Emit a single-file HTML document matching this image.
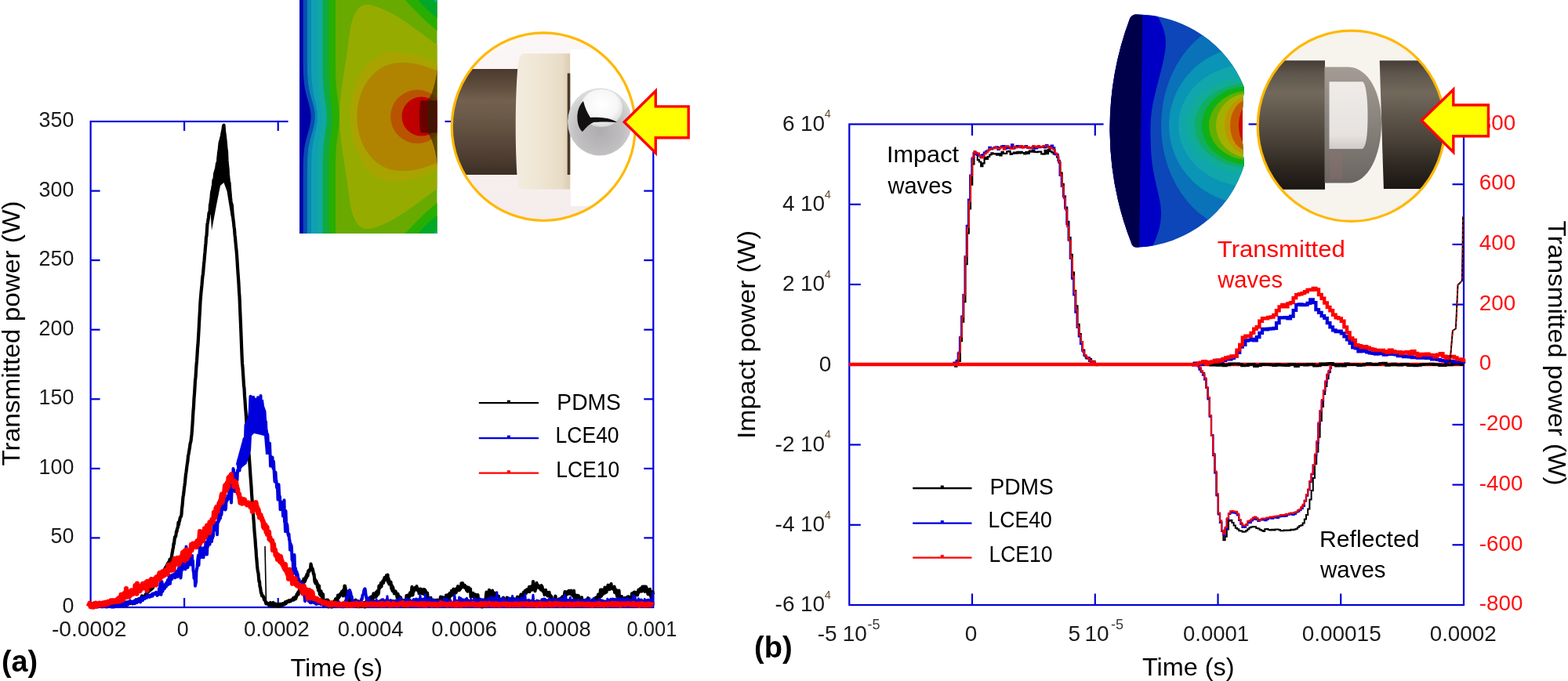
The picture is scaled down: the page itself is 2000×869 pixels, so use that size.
<!DOCTYPE html>
<html><head><meta charset="utf-8"><title>Figure</title>
<style>html,body{margin:0;padding:0;background:#fff;}body{width:2000px;height:869px;overflow:hidden;}svg{display:block;}</style>
</head><body>
<svg width="2000" height="869" viewBox="0 0 2000 869" font-family="'Liberation Sans', Arial, sans-serif">

<rect x="115.6" y="155.0" width="717.6999999999999" height="620.0" fill="none" stroke="#0000d8" stroke-width="2.2"/>
<line x1="115.6" y1="686.4" x2="127.6" y2="686.4" stroke="#0000d8" stroke-width="2.2"/>
<line x1="821.3" y1="686.4" x2="833.3" y2="686.4" stroke="#0000d8" stroke-width="2.2"/>
<line x1="115.6" y1="597.9" x2="127.6" y2="597.9" stroke="#0000d8" stroke-width="2.2"/>
<line x1="821.3" y1="597.9" x2="833.3" y2="597.9" stroke="#0000d8" stroke-width="2.2"/>
<line x1="115.6" y1="509.3" x2="127.6" y2="509.3" stroke="#0000d8" stroke-width="2.2"/>
<line x1="821.3" y1="509.3" x2="833.3" y2="509.3" stroke="#0000d8" stroke-width="2.2"/>
<line x1="115.6" y1="420.7" x2="127.6" y2="420.7" stroke="#0000d8" stroke-width="2.2"/>
<line x1="821.3" y1="420.7" x2="833.3" y2="420.7" stroke="#0000d8" stroke-width="2.2"/>
<line x1="115.6" y1="332.1" x2="127.6" y2="332.1" stroke="#0000d8" stroke-width="2.2"/>
<line x1="821.3" y1="332.1" x2="833.3" y2="332.1" stroke="#0000d8" stroke-width="2.2"/>
<line x1="115.6" y1="243.6" x2="127.6" y2="243.6" stroke="#0000d8" stroke-width="2.2"/>
<line x1="821.3" y1="243.6" x2="833.3" y2="243.6" stroke="#0000d8" stroke-width="2.2"/>
<line x1="235.1" y1="775.0" x2="235.1" y2="763.0" stroke="#0000d8" stroke-width="2.2"/>
<line x1="235.1" y1="155.0" x2="235.1" y2="167.0" stroke="#0000d8" stroke-width="2.2"/>
<line x1="354.7" y1="775.0" x2="354.7" y2="763.0" stroke="#0000d8" stroke-width="2.2"/>
<line x1="354.7" y1="155.0" x2="354.7" y2="167.0" stroke="#0000d8" stroke-width="2.2"/>
<line x1="474.4" y1="775.0" x2="474.4" y2="763.0" stroke="#0000d8" stroke-width="2.2"/>
<line x1="474.4" y1="155.0" x2="474.4" y2="167.0" stroke="#0000d8" stroke-width="2.2"/>
<line x1="594.0" y1="775.0" x2="594.0" y2="763.0" stroke="#0000d8" stroke-width="2.2"/>
<line x1="594.0" y1="155.0" x2="594.0" y2="167.0" stroke="#0000d8" stroke-width="2.2"/>
<line x1="713.6" y1="775.0" x2="713.6" y2="763.0" stroke="#0000d8" stroke-width="2.2"/>
<line x1="713.6" y1="155.0" x2="713.6" y2="167.0" stroke="#0000d8" stroke-width="2.2"/>
<rect x="1083.3" y="158.5" width="783.7" height="613.5" fill="none" stroke="#0000d8" stroke-width="2.2"/>
<line x1="1083.3" y1="669.8" x2="1097.8" y2="669.8" stroke="#0000d8" stroke-width="2.2"/>
<line x1="1083.3" y1="567.5" x2="1097.8" y2="567.5" stroke="#0000d8" stroke-width="2.2"/>
<line x1="1083.3" y1="363.0" x2="1097.8" y2="363.0" stroke="#0000d8" stroke-width="2.2"/>
<line x1="1083.3" y1="260.8" x2="1097.8" y2="260.8" stroke="#0000d8" stroke-width="2.2"/>
<line x1="1852.5" y1="695.3" x2="1867.0" y2="695.3" stroke="#0000d8" stroke-width="2.2"/>
<line x1="1852.5" y1="618.6" x2="1867.0" y2="618.6" stroke="#0000d8" stroke-width="2.2"/>
<line x1="1852.5" y1="541.9" x2="1867.0" y2="541.9" stroke="#0000d8" stroke-width="2.2"/>
<line x1="1852.5" y1="388.6" x2="1867.0" y2="388.6" stroke="#0000d8" stroke-width="2.2"/>
<line x1="1852.5" y1="311.9" x2="1867.0" y2="311.9" stroke="#0000d8" stroke-width="2.2"/>
<line x1="1852.5" y1="235.2" x2="1867.0" y2="235.2" stroke="#0000d8" stroke-width="2.2"/>
<line x1="1240.0" y1="772.0" x2="1240.0" y2="757.5" stroke="#0000d8" stroke-width="2.2"/>
<line x1="1240.0" y1="158.5" x2="1240.0" y2="173.0" stroke="#0000d8" stroke-width="2.2"/>
<line x1="1396.8" y1="772.0" x2="1396.8" y2="757.5" stroke="#0000d8" stroke-width="2.2"/>
<line x1="1396.8" y1="158.5" x2="1396.8" y2="173.0" stroke="#0000d8" stroke-width="2.2"/>
<line x1="1553.5" y1="772.0" x2="1553.5" y2="757.5" stroke="#0000d8" stroke-width="2.2"/>
<line x1="1553.5" y1="158.5" x2="1553.5" y2="173.0" stroke="#0000d8" stroke-width="2.2"/>
<line x1="1710.2" y1="772.0" x2="1710.2" y2="757.5" stroke="#0000d8" stroke-width="2.2"/>
<line x1="1710.2" y1="158.5" x2="1710.2" y2="173.0" stroke="#0000d8" stroke-width="2.2"/>
<path d="M116.0,771.0 116.5,772.4 117.0,772.2 117.5,770.5 118.0,770.7 118.5,770.5 119.0,771.6 119.5,771.0 120.0,771.8 120.5,769.2 121.0,772.6 121.5,771.0 122.0,771.8 122.5,771.0 123.0,770.7 123.5,771.6 124.0,771.9 124.5,770.9 125.0,771.0 125.5,771.8 126.0,770.3 126.5,769.6 127.0,771.6 127.5,770.5 128.0,769.3 128.5,770.4 129.0,770.7 129.5,770.0 130.0,769.7 130.5,771.2 131.0,772.1 131.5,771.0 132.0,770.5 132.5,771.6 133.0,772.0 133.5,771.0 134.0,771.8 134.5,772.3 135.0,771.1 135.5,770.5 136.0,771.6 136.5,771.5 137.0,772.4 137.5,770.0 138.0,770.7 138.5,770.5 139.0,769.6 139.5,771.5 140.0,771.9 140.5,770.6 141.0,772.8 141.5,772.2 142.0,772.0 142.5,771.8 143.0,772.4 143.5,770.1 144.0,772.0 144.5,772.0 145.0,769.7 145.5,771.8 146.0,771.2 146.5,772.2 147.0,771.0 147.5,771.4 148.0,771.8 148.5,770.6 149.0,772.1 149.5,771.4 150.0,772.0 150.5,770.9 151.0,772.5 151.5,771.9 152.0,771.1 152.5,771.8 153.0,772.4 153.5,772.9 154.0,769.4 154.5,771.8 155.0,771.3 155.5,770.7 156.0,769.7 156.5,771.9 157.0,769.4 157.5,771.1 158.0,771.8 158.5,768.8 159.0,770.1 159.5,769.0 160.0,770.5 160.5,771.7 161.0,772.1 161.5,768.3 162.0,769.4 162.5,770.6 163.0,771.5 163.5,770.2 164.0,769.0 164.5,770.0 165.0,769.6 165.5,769.4 166.0,768.8 166.5,769.8 167.0,769.7 167.5,769.2 168.0,769.0 168.5,767.9 169.0,768.6 169.5,770.3 170.0,768.8 170.5,767.3 171.0,769.7 171.5,768.6 172.0,769.9 172.5,767.6 173.0,766.7 173.5,765.5 174.0,767.9 174.5,768.9 175.0,765.2 175.5,765.1 176.0,766.0 176.5,764.3 177.0,764.5 177.5,764.2 178.0,764.4 178.5,765.0 179.0,763.6 179.5,764.2 180.0,762.6 180.5,763.0 181.0,760.3 181.5,760.7 182.0,762.6 182.5,760.9 183.0,761.8 183.5,761.4 184.0,761.9 184.5,761.1 185.0,761.0 185.5,759.3 186.0,758.1 186.5,757.5 187.0,757.1 187.5,755.9 188.0,755.9 188.5,755.7 189.0,755.5 189.5,754.3 190.0,752.1 190.5,753.3 191.0,753.0 191.5,753.3 192.0,752.2 192.5,750.4 193.0,749.7 193.5,751.8 194.0,750.0 194.5,750.4 195.0,750.1 195.5,746.5 196.0,747.0 196.5,746.4 197.0,745.8 197.5,745.0 198.0,744.0 198.5,743.3 199.0,740.9 199.5,741.5 200.0,740.3 200.5,740.4 201.0,739.1 201.5,739.5 202.0,739.0 202.5,737.8 203.0,737.1 203.5,736.2 204.0,735.0 204.5,734.5 205.0,733.5 205.5,733.7 206.0,732.6 206.5,732.5 207.0,729.9 207.5,731.4 208.0,729.0 208.5,728.4 209.0,728.2 209.5,727.1 210.0,727.3 210.5,725.6 211.0,724.3 211.5,723.7 212.0,725.1 212.5,723.0 213.0,721.0 213.5,721.3 214.0,718.9 214.5,721.5 215.0,717.4 215.5,718.9 216.0,718.2 216.5,713.8 217.0,716.2 217.5,716.6 218.0,714.8 218.5,711.8 219.0,710.4 219.5,706.3 220.0,703.9 220.5,700.4 221.0,699.1 221.5,693.6 222.0,694.1 222.5,689.1 223.0,685.4 223.5,685.3 224.0,685.0 224.5,682.1 225.0,677.9 225.5,678.5 226.0,674.8 226.5,673.8 227.0,672.6 227.5,666.7 228.0,669.6 228.5,665.8 229.0,664.8 229.5,661.8 230.0,660.2 230.5,659.6 231.0,659.0 231.5,656.2 232.0,648.8 232.5,645.6 233.0,639.9 233.5,633.9 234.0,631.6 234.5,627.6 235.0,622.6 235.5,619.3 236.0,615.4 236.5,609.9 237.0,605.2 237.5,602.3 238.0,598.2 238.5,594.0 239.0,591.2 239.5,587.8 240.0,581.6 240.5,579.7 241.0,576.9 241.5,573.7 242.0,571.0 242.5,566.6 243.0,564.7 243.5,563.0 244.0,558.8 244.5,554.4 245.0,548.1 245.5,541.2 246.0,532.7 246.5,524.2 247.0,518.8 247.5,508.4 248.0,502.6 248.5,494.5 249.0,485.8 249.5,481.5 250.0,473.9 250.5,465.7 251.0,460.7 251.5,453.0 252.0,444.8 252.5,439.3 253.0,431.2 253.5,422.5 254.0,412.9 254.5,403.7 255.0,395.0 255.5,385.2 256.0,379.2 256.5,373.1 257.0,368.3 257.5,363.5 258.0,356.9 258.5,352.3 259.0,349.5 259.5,343.3 260.0,337.7 260.5,332.9 261.0,326.5 261.5,321.7 262.0,315.2 262.5,310.7 263.0,302.3 263.5,301.1 264.0,292.8 264.5,285.6 265.0,284.1 265.5,280.3 266.0,277.5 266.5,272.0 267.0,270.8 267.5,272.1 268.0,261.1 268.5,260.0 269.0,255.5 269.5,252.7 270.0,246.1 270.5,243.5 271.0,242.4 271.5,238.1 272.0,237.0 272.5,229.9 273.0,228.9 273.5,230.6 274.0,222.8 274.5,220.2 275.0,219.1 275.5,216.8 276.0,215.7 276.5,212.3 277.0,208.6 277.5,207.7 278.0,209.0 278.5,203.8 279.0,194.6 279.5,195.4 280.0,191.2 280.5,190.3 281.0,186.0 281.5,186.0 282.0,181.4 282.5,178.0 283.0,173.7 283.5,170.1 284.0,167.4 284.5,165.5 285.0,161.1 285.5,159.8 286.0,167.1 286.5,170.5 287.0,175.0 287.5,178.9 288.0,184.2 288.5,190.1 289.0,192.9 289.5,204.7 290.0,210.1 290.5,214.9 291.0,222.9 291.5,228.0 292.0,233.2 292.5,233.2 293.0,240.8 293.5,246.2 294.0,252.0 294.5,256.6 295.0,260.2 295.5,260.5 296.0,263.2 296.5,271.6 297.0,275.0 297.5,280.6 298.0,283.9 298.5,289.2 299.0,292.5 299.5,299.4 300.0,303.6 300.5,309.3 301.0,314.5 301.5,318.9 302.0,324.9 302.5,332.2 303.0,340.7 303.5,348.2 304.0,354.8 304.5,362.5 305.0,372.5 305.5,378.4 306.0,391.0 306.5,402.9 307.0,414.4 307.5,426.8 308.0,440.1 308.5,452.8 309.0,463.4 309.5,468.5 310.0,476.2 310.5,483.7 311.0,492.4 311.5,495.4 312.0,505.2 312.5,511.3 313.0,519.2 313.5,525.2 314.0,532.7 314.5,540.6 315.0,546.1 315.5,552.9 316.0,559.6 316.5,565.1 317.0,573.1 317.5,579.1 318.0,585.2 318.5,592.8 319.0,599.8 319.5,607.9 320.0,614.2 320.5,620.8 321.0,629.9 321.5,636.6 322.0,644.0 322.5,650.5 323.0,656.9 323.5,663.2 324.0,669.9 324.5,677.7 325.0,683.5 325.5,688.5 326.0,696.6 326.5,701.8 327.0,710.0 327.5,715.2 328.0,721.7 328.5,726.5 329.0,729.7 329.5,731.5 330.0,737.3 330.5,742.2 331.0,741.9 331.5,748.6 332.0,749.5 332.5,753.1 333.0,756.8 333.5,756.5 334.0,760.2 334.5,760.3 335.0,760.0 335.5,761.4 336.0,761.1 336.5,763.2 337.0,765.4 337.5,763.6 338.0,765.8 338.5,767.4 339.0,769.2 339.5,770.4 340.0,769.5 340.5,769.3 341.0,770.6 341.5,769.9 342.0,770.0 342.5,771.5 343.0,772.2 343.5,770.9 344.0,770.5 344.5,771.4 345.0,769.0 345.5,771.0 346.0,770.0 346.5,773.5 347.0,772.0 347.5,771.5 348.0,771.2 348.5,769.0 349.0,772.3 349.5,773.3 350.0,771.0 350.5,772.5 351.0,772.7 351.5,770.5 352.0,773.1 352.5,773.6 353.0,772.5 353.5,772.3 354.0,773.3 354.5,771.0 355.0,772.7 355.5,773.8 356.0,771.6 356.5,773.9 357.0,772.6 357.5,770.7 358.0,772.4 358.5,771.3 359.0,772.3 359.5,770.6 360.0,772.6 360.5,770.5 361.0,771.4 361.5,770.2 362.0,770.2 362.5,771.4 363.0,770.2 363.5,769.4 364.0,768.2 364.5,770.4 365.0,769.7 365.5,768.4 366.0,768.7 366.5,767.2 367.0,767.0 367.5,766.9 368.0,767.9 368.5,767.5 369.0,766.3 369.5,767.5 370.0,767.3 370.5,766.4 371.0,767.0 371.5,765.5 372.0,765.4 372.5,765.7 373.0,765.0 373.5,765.5 374.0,763.2 374.5,765.7 375.0,763.2 375.5,763.6 376.0,762.1 376.5,763.9 377.0,764.3 377.5,763.1 378.0,761.8 378.5,758.4 379.0,758.2 379.5,757.5 380.0,756.1 380.5,758.7 381.0,755.4 381.5,753.9 382.0,754.2 382.5,749.7 383.0,748.8 383.5,747.9 384.0,750.2 384.5,748.8 385.0,748.4 385.5,748.6 386.0,741.7 386.5,742.7 387.0,743.4 387.5,738.7 388.0,739.7 388.5,742.3 389.0,741.5 389.5,740.4 390.0,736.9 390.5,735.3 391.0,737.3 391.5,732.8 392.0,733.5 392.5,734.8 393.0,729.7 393.5,728.1 394.0,728.5 394.5,729.0 395.0,727.7 395.5,725.8 396.0,725.8 396.5,719.6 397.0,721.9 397.5,725.9 398.0,724.9 398.5,725.5 399.0,727.4 399.5,729.7 400.0,733.0 400.5,732.6 401.0,737.2 401.5,742.3 402.0,739.5 402.5,744.5 403.0,743.7 403.5,741.5 404.0,744.8 404.5,744.2 405.0,749.6 405.5,746.2 406.0,753.4 406.5,752.8 407.0,747.7 407.5,755.7 408.0,758.7 408.5,754.3 409.0,759.8 409.5,754.3 410.0,760.4 410.5,757.0 411.0,763.4 411.5,759.1 412.0,758.3 412.5,766.8 413.0,772.5 413.5,765.8 414.0,769.4 414.5,767.9 415.0,767.1 415.5,769.5 416.0,772.2 416.5,765.5 417.0,770.0 417.5,769.7 418.0,765.7 418.5,773.2 419.0,774.2 419.5,767.4 420.0,774.1 420.5,770.3 421.0,769.9 421.5,774.1 422.0,771.3 422.5,771.7 423.0,774.5 423.5,774.5 424.0,773.7 424.5,768.4 425.0,768.2 425.5,774.0 426.0,768.3 426.5,770.1 427.0,766.4 427.5,767.8 428.0,764.4 428.5,770.7 429.0,763.6 429.5,765.0 430.0,764.0 430.5,766.6 431.0,759.6 431.5,762.2 432.0,761.0 432.5,762.0 433.0,761.1 433.5,758.3 434.0,759.4 434.5,757.4 435.0,758.8 435.5,756.9 436.0,755.0 436.5,755.9 437.0,756.3 437.5,760.3 438.0,753.1 438.5,754.5 439.0,756.7 439.5,747.6 440.0,747.8 440.5,750.4 441.0,754.3 441.5,761.7 442.0,758.1 442.5,761.3 443.0,759.2 443.5,755.1 444.0,756.7 444.5,766.0 445.0,765.3 445.5,763.0 446.0,770.1 446.5,765.0 447.0,772.7 447.5,773.5 448.0,768.2 448.5,767.3 449.0,772.0 449.5,767.4 450.0,772.1 450.5,767.1 451.0,771.9 451.5,770.2 452.0,769.0 452.5,767.9 453.0,770.6 453.5,765.5 454.0,769.3 454.5,769.0 455.0,771.6 455.5,767.0 456.0,774.1 456.5,769.3 457.0,767.3 457.5,773.3 458.0,774.0 458.5,769.5 459.0,767.9 459.5,770.0 460.0,768.3 460.5,769.3 461.0,773.7 461.5,770.9 462.0,770.3 462.5,770.8 463.0,769.9 463.5,772.0 464.0,772.1 464.5,769.1 465.0,770.3 465.5,774.5 466.0,770.2 466.5,768.4 467.0,773.3 467.5,768.0 468.0,765.0 468.5,768.8 469.0,764.6 469.5,765.2 470.0,766.8 470.5,765.3 471.0,763.4 471.5,763.5 472.0,763.0 472.5,766.8 473.0,761.9 473.5,761.8 474.0,767.7 474.5,761.1 475.0,765.6 475.5,764.8 476.0,760.8 476.5,757.4 477.0,761.5 477.5,761.6 478.0,761.9 478.5,759.4 479.0,761.7 479.5,761.7 480.0,755.5 480.5,760.5 481.0,756.6 481.5,754.0 482.0,753.7 482.5,758.1 483.0,755.1 483.5,747.5 484.0,751.1 484.5,749.7 485.0,748.7 485.5,747.0 486.0,743.9 486.5,748.6 487.0,743.4 487.5,743.8 488.0,742.4 488.5,741.2 489.0,743.9 489.5,742.1 490.0,738.7 490.5,737.2 491.0,737.4 491.5,740.0 492.0,737.1 492.5,736.4 493.0,734.2 493.5,735.4 494.0,737.6 494.5,733.7 495.0,743.0 495.5,738.3 496.0,739.9 496.5,745.5 497.0,743.9 497.5,744.5 498.0,744.0 498.5,742.7 499.0,747.9 499.5,751.4 500.0,747.4 500.5,753.9 501.0,749.0 501.5,750.9 502.0,755.0 502.5,754.8 503.0,757.5 503.5,755.1 504.0,755.4 504.5,754.5 505.0,757.1 505.5,757.9 506.0,757.6 506.5,762.2 507.0,760.4 507.5,757.7 508.0,769.0 508.5,761.5 509.0,761.0 509.5,767.5 510.0,767.8 510.5,762.7 511.0,762.5 511.5,764.1 512.0,769.7 512.5,766.8 513.0,766.1 513.5,768.4 514.0,771.9 514.5,766.2 515.0,769.1 515.5,766.0 516.0,773.8 516.5,772.2 517.0,769.4 517.5,766.1 518.0,767.3 518.5,760.0 519.0,764.9 519.5,760.4 520.0,759.7 520.5,760.5 521.0,760.6 521.5,762.1 522.0,761.7 522.5,760.0 523.0,756.4 523.5,759.7 524.0,757.1 524.5,759.6 525.0,753.9 525.5,748.9 526.0,753.7 526.5,759.4 527.0,754.7 527.5,752.5 528.0,754.4 528.5,752.9 529.0,752.1 529.5,749.8 530.0,751.2 530.5,751.5 531.0,749.5 531.5,748.3 532.0,751.3 532.5,753.3 533.0,752.6 533.5,752.2 534.0,752.2 534.5,757.2 535.0,751.6 535.5,753.5 536.0,755.7 536.5,751.6 537.0,752.6 537.5,755.0 538.0,757.1 538.5,754.3 539.0,754.9 539.5,754.7 540.0,752.1 540.5,758.2 541.0,755.4 541.5,752.4 542.0,756.7 542.5,753.4 543.0,755.6 543.5,758.6 544.0,756.8 544.5,762.1 545.0,756.5 545.5,761.1 546.0,762.4 546.5,765.0 547.0,764.2 547.5,763.1 548.0,763.2 548.5,763.4 549.0,766.8 549.5,762.9 550.0,766.3 550.5,765.3 551.0,766.6 551.5,765.9 552.0,772.1 552.5,765.9 553.0,768.6 553.5,769.2 554.0,770.5 554.5,770.6 555.0,771.0 555.5,772.1 556.0,765.9 556.5,769.3 557.0,766.1 557.5,769.3 558.0,765.7 558.5,766.0 559.0,767.9 559.5,771.1 560.0,768.9 560.5,768.0 561.0,770.4 561.5,764.5 562.0,761.5 562.5,765.3 563.0,765.4 563.5,768.7 564.0,770.7 564.5,762.1 565.0,771.0 565.5,768.5 566.0,766.5 566.5,765.2 567.0,769.9 567.5,764.0 568.0,762.4 568.5,763.6 569.0,759.7 569.5,763.9 570.0,762.3 570.5,763.1 571.0,762.9 571.5,759.2 572.0,764.7 572.5,758.8 573.0,763.2 573.5,757.0 574.0,761.4 574.5,758.3 575.0,760.1 575.5,758.0 576.0,753.9 576.5,756.0 577.0,758.3 577.5,759.2 578.0,753.7 578.5,751.7 579.0,754.2 579.5,755.3 580.0,753.8 580.5,752.9 581.0,756.5 581.5,756.3 582.0,755.3 582.5,750.8 583.0,752.7 583.5,751.6 584.0,748.2 584.5,753.2 585.0,750.9 585.5,749.0 586.0,753.1 586.5,751.1 587.0,750.8 587.5,751.2 588.0,749.6 588.5,744.3 589.0,746.0 589.5,748.9 590.0,744.1 590.5,745.6 591.0,746.0 591.5,749.1 592.0,749.4 592.5,749.0 593.0,747.0 593.5,750.3 594.0,749.9 594.5,748.9 595.0,753.1 595.5,751.7 596.0,749.3 596.5,754.7 597.0,751.7 597.5,754.3 598.0,749.9 598.5,754.1 599.0,752.5 599.5,753.0 600.0,751.4 600.5,761.7 601.0,756.8 601.5,758.3 602.0,761.0 602.5,758.7 603.0,760.8 603.5,756.9 604.0,761.3 604.5,760.4 605.0,763.2 605.5,762.9 606.0,759.5 606.5,758.8 607.0,761.2 607.5,765.8 608.0,765.4 608.5,765.8 609.0,760.4 609.5,759.2 610.0,764.5 610.5,765.6 611.0,765.4 611.5,768.1 612.0,767.2 612.5,765.2 613.0,766.3 613.5,769.2 614.0,769.4 614.5,769.4 615.0,774.5 615.5,768.8 616.0,769.1 616.5,765.9 617.0,766.8 617.5,768.3 618.0,767.9 618.5,765.5 619.0,766.3 619.5,764.9 620.0,759.7 620.5,755.7 621.0,768.5 621.5,764.4 622.0,761.7 622.5,757.1 623.0,757.6 623.5,763.3 624.0,752.8 624.5,758.1 625.0,760.4 625.5,758.1 626.0,759.0 626.5,756.3 627.0,761.7 627.5,754.0 628.0,753.7 628.5,758.0 629.0,761.3 629.5,758.2 630.0,761.3 630.5,758.0 631.0,756.8 631.5,763.5 632.0,764.4 632.5,764.8 633.0,760.5 633.5,759.2 634.0,759.7 634.5,762.4 635.0,764.8 635.5,765.1 636.0,760.9 636.5,765.2 637.0,765.3 637.5,765.9 638.0,766.1 638.5,766.1 639.0,768.5 639.5,767.8 640.0,768.5 640.5,766.3 641.0,768.8 641.5,767.5 642.0,762.6 642.5,768.8 643.0,766.9 643.5,769.7 644.0,767.0 644.5,767.1 645.0,767.8 645.5,767.1 646.0,766.0 646.5,762.7 647.0,771.4 647.5,763.1 648.0,766.0 648.5,768.3 649.0,767.6 649.5,767.9 650.0,768.3 650.5,769.5 651.0,767.1 651.5,773.3 652.0,763.8 652.5,766.7 653.0,765.2 653.5,764.7 654.0,766.6 654.5,769.3 655.0,764.0 655.5,764.0 656.0,767.3 656.5,766.8 657.0,770.1 657.5,767.8 658.0,765.9 658.5,764.4 659.0,765.7 659.5,764.7 660.0,761.7 660.5,764.6 661.0,763.7 661.5,763.1 662.0,762.2 662.5,766.9 663.0,764.1 663.5,764.2 664.0,760.1 664.5,758.6 665.0,760.0 665.5,760.8 666.0,759.0 666.5,758.9 667.0,761.2 667.5,759.2 668.0,755.7 668.5,756.6 669.0,755.6 669.5,757.2 670.0,753.5 670.5,755.5 671.0,757.1 671.5,755.1 672.0,752.4 672.5,752.7 673.0,754.0 673.5,754.5 674.0,754.9 674.5,752.1 675.0,748.8 675.5,755.2 676.0,752.2 676.5,752.2 677.0,751.7 677.5,748.3 678.0,749.7 678.5,750.9 679.0,752.5 679.5,749.9 680.0,742.0 680.5,748.7 681.0,749.8 681.5,751.9 682.0,750.2 682.5,754.2 683.0,751.4 683.5,751.0 684.0,749.8 684.5,743.9 685.0,749.0 685.5,748.9 686.0,746.6 686.5,749.7 687.0,749.7 687.5,748.1 688.0,749.3 688.5,749.4 689.0,751.0 689.5,749.9 690.0,752.6 690.5,747.2 691.0,751.5 691.5,748.6 692.0,751.9 692.5,754.7 693.0,754.0 693.5,754.1 694.0,755.0 694.5,759.0 695.0,753.0 695.5,758.2 696.0,752.9 696.5,755.8 697.0,757.8 697.5,755.8 698.0,758.8 698.5,760.4 699.0,756.3 699.5,759.4 700.0,759.1 700.5,755.8 701.0,760.4 701.5,759.3 702.0,764.9 702.5,760.0 703.0,766.6 703.5,761.6 704.0,768.0 704.5,765.0 705.0,765.3 705.5,766.5 706.0,767.2 706.5,768.8 707.0,770.0 707.5,765.4 708.0,763.7 708.5,760.7 709.0,766.6 709.5,769.7 710.0,769.2 710.5,769.0 711.0,768.3 711.5,768.0 712.0,769.3 712.5,770.4 713.0,764.7 713.5,770.1 714.0,764.4 714.5,766.9 715.0,765.3 715.5,765.4 716.0,763.2 716.5,762.4 717.0,764.1 717.5,761.5 718.0,769.5 718.5,762.0 719.0,760.9 719.5,760.6 720.0,758.8 720.5,755.0 721.0,759.7 721.5,760.6 722.0,755.7 722.5,758.7 723.0,755.3 723.5,757.6 724.0,758.0 724.5,757.8 725.0,757.1 725.5,753.8 726.0,757.1 726.5,754.3 727.0,756.5 727.5,757.7 728.0,755.7 728.5,753.7 729.0,758.6 729.5,754.8 730.0,755.7 730.5,755.5 731.0,760.6 731.5,758.5 732.0,753.9 732.5,761.4 733.0,764.9 733.5,764.7 734.0,759.3 734.5,761.2 735.0,762.6 735.5,763.9 736.0,762.2 736.5,759.8 737.0,764.6 737.5,764.7 738.0,760.4 738.5,763.0 739.0,764.9 739.5,764.6 740.0,766.2 740.5,767.0 741.0,766.6 741.5,765.2 742.0,762.4 742.5,767.3 743.0,769.3 743.5,770.9 744.0,766.2 744.5,766.4 745.0,770.1 745.5,770.3 746.0,767.8 746.5,768.8 747.0,765.5 747.5,768.9 748.0,765.7 748.5,767.5 749.0,767.7 749.5,767.0 750.0,763.2 750.5,766.5 751.0,769.4 751.5,768.7 752.0,768.0 752.5,770.2 753.0,771.0 753.5,771.5 754.0,767.7 754.5,769.8 755.0,769.2 755.5,767.4 756.0,765.4 756.5,768.2 757.0,765.9 757.5,772.6 758.0,766.7 758.5,765.9 759.0,765.0 759.5,770.0 760.0,762.7 760.5,764.1 761.0,762.1 761.5,763.2 762.0,762.9 762.5,765.1 763.0,758.6 763.5,761.4 764.0,764.8 764.5,759.2 765.0,759.5 765.5,757.3 766.0,752.7 766.5,758.2 767.0,760.8 767.5,756.3 768.0,752.5 768.5,757.1 769.0,756.1 769.5,757.9 770.0,757.1 770.5,754.0 771.0,755.3 771.5,749.7 772.0,756.4 772.5,753.9 773.0,755.8 773.5,755.4 774.0,751.9 774.5,751.9 775.0,749.9 775.5,746.7 776.0,751.0 776.5,751.4 777.0,748.2 777.5,752.2 778.0,750.4 778.5,750.9 779.0,747.7 779.5,745.0 780.0,750.8 780.5,751.1 781.0,750.0 781.5,749.8 782.0,750.8 782.5,751.8 783.0,751.5 783.5,748.6 784.0,755.9 784.5,751.1 785.0,754.5 785.5,755.2 786.0,757.2 786.5,753.3 787.0,760.7 787.5,760.0 788.0,760.9 788.5,762.8 789.0,758.5 789.5,753.5 790.0,762.4 790.5,765.4 791.0,765.7 791.5,762.3 792.0,764.0 792.5,765.5 793.0,761.1 793.5,764.5 794.0,765.2 794.5,771.2 795.0,766.4 795.5,771.5 796.0,767.4 796.5,763.0 797.0,772.1 797.5,764.1 798.0,767.6 798.5,769.9 799.0,764.3 799.5,762.3 800.0,767.4 800.5,764.8 801.0,761.4 801.5,761.4 802.0,762.8 802.5,765.7 803.0,762.4 803.5,764.3 804.0,766.4 804.5,765.2 805.0,765.3 805.5,764.5 806.0,757.4 806.5,763.9 807.0,761.4 807.5,760.0 808.0,757.4 808.5,755.8 809.0,756.6 809.5,758.8 810.0,755.7 810.5,756.2 811.0,756.3 811.5,759.0 812.0,756.3 812.5,756.3 813.0,759.4 813.5,755.1 814.0,756.9 814.5,752.6 815.0,755.5 815.5,754.7 816.0,754.4 816.5,752.5 817.0,750.8 817.5,752.2 818.0,751.4 818.5,754.6 819.0,753.9 819.5,748.5 820.0,752.5 820.5,750.1 821.0,752.6 821.5,750.7 822.0,748.5 822.5,754.8 823.0,753.7 823.5,749.9 824.0,748.6 824.5,752.1 825.0,750.9 825.5,753.1 826.0,755.7 826.5,758.0 827.0,753.9 827.5,758.3 828.0,758.1 828.5,754.5 829.0,751.8 829.5,758.2 830.0,757.8 830.5,762.3 831.0,760.4 831.5,759.1 832.0,761.5 832.5,755.2 833.0,758.5" fill="none" stroke="#000" stroke-width="4.2" stroke-linejoin="round"/>
<path d="M 285.5,157 L 287.5,180 L 289.5,212 L 291,229 L 293,240 L 296.5,276 L 295,278 L 289.5,244 L 285.5,233 L 281,237 L 276,262 L 270,294 L 268.5,270 L 270,250 L 272,232 L 275.5,212 L 278.5,182 Z" fill="#000"/>
<path d="M338,697 L339.5,771" stroke="#000" stroke-width="1.6"/>
<path d="M116.0,773.5 116.5,774.5 117.0,774.4 117.5,774.3 118.0,774.5 118.5,772.0 119.0,772.7 119.5,771.9 120.0,773.3 120.5,774.5 121.0,773.4 121.5,774.0 122.0,771.1 122.5,773.6 123.0,772.3 123.5,774.5 124.0,774.4 124.5,774.5 125.0,773.3 125.5,774.1 126.0,774.1 126.5,772.9 127.0,772.7 127.5,773.2 128.0,772.6 128.5,772.6 129.0,773.0 129.5,772.4 130.0,774.2 130.5,771.4 131.0,774.3 131.5,772.5 132.0,772.6 132.5,771.6 133.0,773.1 133.5,772.9 134.0,773.5 134.5,772.6 135.0,773.3 135.5,774.5 136.0,773.7 136.5,772.5 137.0,774.3 137.5,773.0 138.0,773.9 138.5,773.9 139.0,772.7 139.5,770.8 140.0,772.7 140.5,773.8 141.0,772.7 141.5,773.7 142.0,774.3 142.5,772.5 143.0,774.5 143.5,774.5 144.0,774.4 144.5,774.5 145.0,774.4 145.5,774.5 146.0,773.3 146.5,773.1 147.0,773.8 147.5,771.9 148.0,771.2 148.5,772.0 149.0,773.5 149.5,773.6 150.0,771.2 150.5,770.6 151.0,772.4 151.5,772.4 152.0,772.5 152.5,773.2 153.0,773.8 153.5,772.4 154.0,772.8 154.5,770.6 155.0,770.4 155.5,772.0 156.0,772.4 156.5,772.3 157.0,772.0 157.5,772.1 158.0,772.1 158.5,768.9 159.0,770.0 159.5,771.3 160.0,771.3 160.5,768.7 161.0,771.8 161.5,769.7 162.0,769.8 162.5,770.3 163.0,770.8 163.5,768.0 164.0,770.8 164.5,769.6 165.0,768.5 165.5,768.9 166.0,766.5 166.5,768.3 167.0,769.1 167.5,767.9 168.0,768.3 168.5,768.4 169.0,768.5 169.5,769.5 170.0,768.2 170.5,767.8 171.0,768.6 171.5,770.3 172.0,767.3 172.5,768.2 173.0,765.6 173.5,769.0 174.0,768.0 174.5,768.7 175.0,766.9 175.5,765.5 176.0,767.7 176.5,767.3 177.0,765.2 177.5,764.2 178.0,766.3 178.5,765.4 179.0,768.5 179.5,764.5 180.0,764.4 180.5,764.7 181.0,762.6 181.5,763.3 182.0,766.2 182.5,763.8 183.0,763.1 183.5,762.1 184.0,764.1 184.5,764.0 185.0,763.3 185.5,762.3 186.0,763.0 186.5,762.9 187.0,761.4 187.5,762.7 188.0,759.3 188.5,760.1 189.0,761.0 189.5,761.1 190.0,759.6 190.5,761.2 191.0,761.9 191.5,760.9 192.0,760.5 192.5,761.0 193.0,760.3 193.5,758.2 194.0,759.2 194.5,760.7 195.0,757.6 195.5,758.9 196.0,758.1 196.5,757.3 197.0,757.0 197.5,758.1 198.0,758.2 198.5,758.0 199.0,755.7 199.5,756.9 200.0,757.4 200.5,759.9 201.0,758.4 201.5,758.4 202.0,758.9 202.5,757.4 203.0,750.9 203.5,753.6 204.0,750.3 204.5,743.7 205.0,745.7 205.5,758.8 206.0,746.7 206.5,742.2 207.0,747.6 207.5,754.7 208.0,748.5 208.5,749.6 209.0,746.7 209.5,746.8 210.0,751.2 210.5,748.9 211.0,745.2 211.5,748.2 212.0,748.4 212.5,743.2 213.0,744.5 213.5,743.9 214.0,740.0 214.5,746.1 215.0,740.8 215.5,738.6 216.0,734.3 216.5,735.3 217.0,744.8 217.5,734.7 218.0,739.8 218.5,736.4 219.0,739.1 219.5,738.9 220.0,733.4 220.5,734.6 221.0,735.5 221.5,735.1 222.0,734.0 222.5,732.5 223.0,735.3 223.5,737.3 224.0,734.0 224.5,728.9 225.0,732.4 225.5,730.7 226.0,731.7 226.5,736.1 227.0,728.2 227.5,728.5 228.0,724.8 228.5,726.5 229.0,725.0 229.5,732.3 230.0,715.7 230.5,737.6 231.0,731.9 231.5,719.7 232.0,727.1 232.5,727.2 233.0,725.1 233.5,721.6 234.0,715.0 234.5,720.3 235.0,723.8 235.5,712.1 236.0,718.2 236.5,726.5 237.0,716.9 237.5,697.5 238.0,717.1 238.5,714.8 239.0,719.9 239.5,724.2 240.0,716.2 240.5,708.6 241.0,714.5 241.5,711.5 242.0,716.9 242.5,720.4 243.0,714.7 243.5,720.5 244.0,712.6 244.5,714.9 245.0,708.9 245.5,717.9 246.0,715.4 246.5,728.5 247.0,729.4 247.5,738.0 248.0,738.3 248.5,734.4 249.0,747.8 249.5,744.7 250.0,743.3 250.5,729.7 251.0,725.7 251.5,725.1 252.0,717.0 252.5,711.7 253.0,708.6 253.5,721.2 254.0,708.9 254.5,706.9 255.0,694.5 255.5,709.2 256.0,708.4 256.5,711.3 257.0,710.1 257.5,706.7 258.0,706.5 258.5,703.0 259.0,699.2 259.5,711.3 260.0,701.7 260.5,701.9 261.0,700.3 261.5,700.2 262.0,698.2 262.5,691.9 263.0,707.4 263.5,698.1 264.0,707.4 264.5,696.7 265.0,697.6 265.5,677.0 266.0,692.1 266.5,688.2 267.0,688.3 267.5,694.8 268.0,688.7 268.5,690.0 269.0,685.3 269.5,681.6 270.0,691.1 270.5,683.9 271.0,686.8 271.5,682.2 272.0,684.2 272.5,669.9 273.0,677.2 273.5,670.1 274.0,666.6 274.5,675.2 275.0,674.9 275.5,673.4 276.0,670.0 276.5,668.4 277.0,682.3 277.5,666.6 278.0,665.0 278.5,666.2 279.0,653.4 279.5,664.2 280.0,657.5 280.5,661.6 281.0,661.5 281.5,645.6 282.0,657.6 282.5,656.3 283.0,649.6 283.5,649.2 284.0,650.5 284.5,641.1 285.0,646.5 285.5,648.0 286.0,643.8 286.5,637.1 287.0,642.1 287.5,650.6 288.0,648.7 288.5,640.4 289.0,636.0 289.5,639.0 290.0,638.1 290.5,633.1 291.0,633.2 291.5,636.5 292.0,636.5 292.5,610.8 293.0,633.6 293.5,627.8 294.0,631.3 294.5,623.9 295.0,641.4 295.5,629.1 296.0,604.5 296.5,625.8 297.0,617.2 297.5,598.0 298.0,599.8 298.5,613.1 299.0,604.9 299.5,627.1 300.0,608.2 300.5,614.8 301.0,615.2 301.5,603.8 302.0,605.1 302.5,612.6 303.0,600.1 303.5,601.0 304.0,599.5 304.5,587.3 305.0,591.3 305.5,600.5 306.0,587.9 306.5,596.6 307.0,584.1 307.5,587.1 308.0,585.0 308.5,588.6 309.0,575.0 309.5,572.8 310.0,569.1 310.5,567.4 311.0,563.0 311.5,560.2 312.0,561.7 312.5,561.4 313.0,559.6 313.5,542.3 314.0,546.5 314.5,560.6 315.0,542.6 315.5,544.0 316.0,537.8 316.5,544.8 317.0,542.3 317.5,539.4 318.0,534.0 318.5,532.1 319.0,517.3 319.5,505.7 320.0,518.4 320.5,519.9 321.0,510.5 321.5,529.2 322.0,509.6 322.5,519.7 323.0,506.9 323.5,519.3 324.0,529.3 324.5,508.9 325.0,517.9 325.5,514.0 326.0,515.4 326.5,535.0 327.0,509.9 327.5,514.1 328.0,511.3 328.5,509.9 329.0,507.2 329.5,525.2 330.0,512.1 330.5,518.4 331.0,526.1 331.5,515.5 332.0,533.7 332.5,504.9 333.0,534.0 333.5,542.5 334.0,526.9 334.5,527.1 335.0,528.8 335.5,553.4 336.0,537.0 336.5,532.0 337.0,550.7 337.5,535.5 338.0,548.1 338.5,543.9 339.0,538.0 339.5,549.8 340.0,549.8 340.5,566.0 341.0,553.7 341.5,556.7 342.0,570.2 342.5,571.8 343.0,572.8 343.5,568.2 344.0,565.7 344.5,578.1 345.0,594.8 345.5,587.2 346.0,582.7 346.5,584.3 347.0,589.4 347.5,583.7 348.0,594.8 348.5,597.7 349.0,588.9 349.5,599.2 350.0,607.4 350.5,614.6 351.0,603.1 351.5,602.9 352.0,612.0 352.5,613.6 353.0,621.9 353.5,623.1 354.0,623.0 354.5,637.6 355.0,631.2 355.5,618.3 356.0,628.5 356.5,634.6 357.0,633.6 357.5,650.3 358.0,645.8 358.5,641.9 359.0,641.5 359.5,640.7 360.0,647.7 360.5,644.3 361.0,658.6 361.5,654.6 362.0,657.7 362.5,638.2 363.0,665.5 363.5,667.3 364.0,678.1 364.5,652.1 365.0,665.4 365.5,672.1 366.0,668.7 366.5,671.2 367.0,679.1 367.5,681.8 368.0,683.8 368.5,681.5 369.0,689.1 369.5,689.3 370.0,701.7 370.5,693.5 371.0,698.4 371.5,695.8 372.0,699.1 372.5,714.1 373.0,715.6 373.5,710.6 374.0,731.8 374.5,728.0 375.0,719.3 375.5,708.0 376.0,725.2 376.5,731.5 377.0,725.2 377.5,733.1 378.0,733.0 378.5,729.4 379.0,736.5 379.5,732.5 380.0,736.6 380.5,744.0 381.0,742.1 381.5,739.2 382.0,750.4 382.5,742.3 383.0,746.5 383.5,746.7 384.0,748.2 384.5,746.5 385.0,744.6 385.5,758.0 386.0,748.7 386.5,749.8 387.0,745.0 387.5,755.0 388.0,760.1 388.5,761.4 389.0,767.2 389.5,763.4 390.0,759.2 390.5,759.5 391.0,762.1 391.5,761.2 392.0,762.3 392.5,761.7 393.0,763.9 393.5,767.0 394.0,765.3 394.5,766.8 395.0,764.2 395.5,768.9 396.0,767.8 396.5,769.2 397.0,767.9 397.5,766.8 398.0,766.3 398.5,768.6 399.0,768.1 399.5,767.1 400.0,768.3 400.5,767.8 401.0,769.5 401.5,768.3 402.0,767.5 402.5,768.9 403.0,768.5 403.5,771.1 404.0,768.9 404.5,768.0 405.0,769.6 405.5,769.5 406.0,770.2 406.5,770.3 407.0,768.9 407.5,770.2 408.0,770.3 408.5,769.1 409.0,770.0 409.5,771.1 410.0,769.0 410.5,769.7 411.0,770.5 411.5,771.0 412.0,771.7 412.5,769.5 413.0,771.6 413.5,772.0 414.0,773.2 414.5,770.8 415.0,770.3 415.5,769.6 416.0,772.2 416.5,773.1 417.0,770.8 417.5,772.2 418.0,772.7 418.5,772.9 419.0,771.4 419.5,772.7 420.0,771.9 420.5,770.8 421.0,772.2 421.5,772.3 422.0,770.7 422.5,772.4 423.0,774.3 423.5,770.0 424.0,772.7 424.5,772.9 425.0,771.8 425.5,772.1 426.0,771.4 426.5,773.3 427.0,770.5 427.5,771.5 428.0,769.3 428.5,772.0 429.0,772.0 429.5,769.5 430.0,770.4 430.5,772.0 431.0,770.8 431.5,769.9 432.0,768.4 432.5,771.7 433.0,773.6 433.5,770.7 434.0,771.8 434.5,771.7 435.0,771.1 435.5,771.3 436.0,771.3 436.5,770.1 437.0,774.1 437.5,774.3 438.0,771.4 438.5,773.2 439.0,770.0 439.5,770.7 440.0,772.3 440.5,768.0 441.0,766.2 441.5,766.6 442.0,762.2 442.5,765.1 443.0,762.3 443.5,760.2 444.0,759.1 444.5,755.6 445.0,754.0 445.5,754.6 446.0,753.1 446.5,754.3 447.0,756.2 447.5,757.7 448.0,762.2 448.5,760.8 449.0,763.7 449.5,766.2 450.0,767.2 450.5,767.4 451.0,767.8 451.5,770.2 452.0,771.2 452.5,769.4 453.0,767.1 453.5,768.3 454.0,768.8 454.5,768.7 455.0,768.6 455.5,769.6 456.0,766.7 456.5,768.3 457.0,769.3 457.5,769.9 458.0,769.3 458.5,769.0 459.0,768.8 459.5,768.2 460.0,769.1 460.5,767.0 461.0,764.6 461.5,765.1 462.0,763.3 462.5,759.6 463.0,759.0 463.5,757.9 464.0,755.0 464.5,753.0 465.0,751.6 465.5,751.3 466.0,753.8 466.5,758.4 467.0,760.4 467.5,763.9 468.0,764.0 468.5,768.1 469.0,770.3 469.5,771.4 470.0,768.1 470.5,768.6 471.0,769.4 471.5,769.4 472.0,767.9 472.5,768.4 473.0,767.5 473.5,771.8 474.0,769.0 474.5,769.1 475.0,768.3 475.5,769.1 476.0,770.0 476.5,768.7 477.0,769.0 477.5,771.7 478.0,770.2 478.5,769.4 479.0,768.6 479.5,769.1 480.0,768.2 480.5,769.4 481.0,768.3 481.5,768.2 482.0,768.6 482.5,767.8 483.0,769.3 483.5,772.1 484.0,768.3 484.5,767.1 485.0,770.2 485.5,768.9 486.0,771.4 486.5,769.5 487.0,770.2 487.5,768.1 488.0,767.1 488.5,768.8 489.0,769.8 489.5,768.0 490.0,767.1 490.5,768.3 491.0,768.5 491.5,768.6 492.0,769.0 492.5,771.9 493.0,769.0 493.5,768.4 494.0,767.7 494.5,770.0 495.0,767.1 495.5,770.7 496.0,769.0 496.5,767.2 497.0,769.2 497.5,768.9 498.0,770.5 498.5,767.2 499.0,769.2 499.5,769.0 500.0,770.1 500.5,767.6 501.0,768.1 501.5,771.4 502.0,769.7 502.5,767.2 503.0,769.4 503.5,768.1 504.0,768.2 504.5,767.5 505.0,770.2 505.5,768.4 506.0,769.2 506.5,769.1 507.0,767.2 507.5,768.1 508.0,769.9 508.5,767.1 509.0,769.3 509.5,768.9 510.0,769.8 510.5,769.8 511.0,770.0 511.5,769.1 512.0,769.3 512.5,768.2 513.0,768.4 513.5,770.1 514.0,768.3 514.5,770.3 515.0,770.2 515.5,768.1 516.0,769.7 516.5,768.1 517.0,769.5 517.5,768.1 518.0,769.5 518.5,769.3 519.0,767.8 519.5,771.5 520.0,770.2 520.5,767.2 521.0,769.5 521.5,768.6 522.0,771.5 522.5,769.0 523.0,769.6 523.5,768.9 524.0,769.9 524.5,768.5 525.0,768.0 525.5,768.5 526.0,768.6 526.5,769.9 527.0,769.2 527.5,768.6 528.0,768.6 528.5,768.0 529.0,769.3 529.5,766.7 530.0,768.9 530.5,770.5 531.0,768.7 531.5,768.3 532.0,769.2 532.5,768.0 533.0,768.2 533.5,770.0 534.0,768.4 534.5,771.5 535.0,769.8 535.5,769.0 536.0,768.4 536.5,768.8 537.0,766.4 537.5,769.4 538.0,770.2 538.5,769.8 539.0,768.6 539.5,769.9 540.0,769.9 540.5,769.0 541.0,769.6 541.5,770.4 542.0,769.7 542.5,768.7 543.0,769.2 543.5,769.3 544.0,767.2 544.5,769.3 545.0,769.0 545.5,766.6 546.0,767.1 546.5,771.3 547.0,769.3 547.5,770.8 548.0,768.7 548.5,771.0 549.0,769.9 549.5,768.4 550.0,769.5 550.5,771.1 551.0,772.1 551.5,769.8 552.0,768.7 552.5,768.2 553.0,770.0 553.5,770.5 554.0,769.4 554.5,769.1 555.0,770.2 555.5,769.8 556.0,769.7 556.5,767.4 557.0,768.8 557.5,771.5 558.0,769.2 558.5,772.2 559.0,769.7 559.5,768.9 560.0,769.6 560.5,770.0 561.0,768.4 561.5,769.5 562.0,768.8 562.5,771.0 563.0,768.7 563.5,769.4 564.0,767.5 564.5,767.6 565.0,769.2 565.5,768.2 566.0,768.9 566.5,769.6 567.0,769.9 567.5,767.6 568.0,769.0 568.5,770.1 569.0,768.5 569.5,767.7 570.0,768.4 570.5,771.2 571.0,769.3 571.5,771.2 572.0,768.9 572.5,770.7 573.0,767.6 573.5,769.0 574.0,769.4 574.5,771.4 575.0,769.9 575.5,770.6 576.0,768.8 576.5,768.8 577.0,770.8 577.5,771.0 578.0,770.8 578.5,770.7 579.0,768.7 579.5,771.9 580.0,769.5 580.5,770.8 581.0,770.2 581.5,767.2 582.0,767.0 582.5,767.4 583.0,769.3 583.5,770.7 584.0,769.0 584.5,770.3 585.0,767.8 585.5,768.6 586.0,768.2 586.5,769.4 587.0,767.9 587.5,769.2 588.0,770.0 588.5,768.8 589.0,768.3 589.5,768.8 590.0,767.9 590.5,768.1 591.0,770.3 591.5,769.8 592.0,767.6 592.5,769.0 593.0,769.9 593.5,770.3 594.0,770.1 594.5,770.5 595.0,769.3 595.5,769.3 596.0,769.1 596.5,770.7 597.0,770.4 597.5,771.5 598.0,770.7 598.5,768.4 599.0,767.6 599.5,767.7 600.0,768.3 600.5,770.1 601.0,767.7 601.5,766.9 602.0,769.1 602.5,770.3 603.0,770.3 603.5,771.4 604.0,769.3 604.5,768.7 605.0,769.0 605.5,767.8 606.0,768.6 606.5,770.9 607.0,771.9 607.5,770.9 608.0,769.7 608.5,769.1 609.0,769.7 609.5,767.1 610.0,770.1 610.5,770.3 611.0,769.2 611.5,769.4 612.0,767.3 612.5,770.3 613.0,770.3 613.5,766.0 614.0,768.7 614.5,769.8 615.0,771.4 615.5,768.3 616.0,769.3 616.5,771.1 617.0,769.9 617.5,769.1 618.0,768.8 618.5,769.4 619.0,768.4 619.5,770.6 620.0,768.3 620.5,770.1 621.0,770.5 621.5,770.9 622.0,769.6 622.5,769.5 623.0,769.9 623.5,769.6 624.0,770.8 624.5,769.4 625.0,771.8 625.5,772.9 626.0,768.7 626.5,770.0 627.0,768.1 627.5,770.4 628.0,770.0 628.5,769.3 629.0,768.3 629.5,769.6 630.0,771.9 630.5,771.5 631.0,770.0 631.5,768.8 632.0,769.5 632.5,768.6 633.0,767.9 633.5,768.4 634.0,770.2 634.5,769.9 635.0,769.7 635.5,768.2 636.0,767.8 636.5,770.7 637.0,769.1 637.5,770.9 638.0,768.6 638.5,770.7 639.0,769.8 639.5,769.0 640.0,769.0 640.5,771.8 641.0,770.6 641.5,769.2 642.0,769.7 642.5,767.6 643.0,771.6 643.5,771.2 644.0,769.0 644.5,770.1 645.0,766.2 645.5,770.7 646.0,770.1 646.5,769.8 647.0,770.5 647.5,769.9 648.0,768.3 648.5,768.7 649.0,769.3 649.5,770.6 650.0,769.5 650.5,768.7 651.0,769.9 651.5,768.0 652.0,772.0 652.5,769.9 653.0,768.3 653.5,769.7 654.0,770.8 654.5,770.2 655.0,772.0 655.5,767.8 656.0,771.4 656.5,769.5 657.0,770.6 657.5,771.6 658.0,768.1 658.5,767.8 659.0,769.1 659.5,767.5 660.0,767.1 660.5,769.6 661.0,770.9 661.5,769.0 662.0,770.1 662.5,774.0 663.0,769.9 663.5,769.2 664.0,769.3 664.5,770.1 665.0,769.2 665.5,770.4 666.0,769.8 666.5,770.7 667.0,769.7 667.5,769.5 668.0,768.4 668.5,767.9 669.0,769.2 669.5,769.1 670.0,769.9 670.5,769.5 671.0,769.1 671.5,772.3 672.0,770.0 672.5,771.0 673.0,768.3 673.5,770.8 674.0,771.0 674.5,770.1 675.0,768.5 675.5,771.1 676.0,768.7 676.5,767.7 677.0,767.6 677.5,769.7 678.0,769.0 678.5,770.6 679.0,770.4 679.5,771.2 680.0,770.0 680.5,769.7 681.0,769.6 681.5,768.6 682.0,768.6 682.5,768.7 683.0,769.9 683.5,768.6 684.0,769.5 684.5,770.9 685.0,766.7 685.5,768.5 686.0,768.4 686.5,769.6 687.0,767.8 687.5,768.8 688.0,772.3 688.5,767.9 689.0,769.5 689.5,769.8 690.0,769.2 690.5,768.1 691.0,770.8 691.5,767.3 692.0,768.4 692.5,769.3 693.0,768.8 693.5,771.0 694.0,769.2 694.5,771.8 695.0,769.5 695.5,771.4 696.0,770.0 696.5,769.2 697.0,769.2 697.5,770.8 698.0,768.9 698.5,769.5 699.0,768.6 699.5,767.1 700.0,770.2 700.5,770.3 701.0,768.1 701.5,770.1 702.0,769.2 702.5,767.2 703.0,768.4 703.5,770.3 704.0,770.8 704.5,770.0 705.0,772.9 705.5,770.0 706.0,768.6 706.5,767.8 707.0,771.4 707.5,769.0 708.0,769.1 708.5,768.6 709.0,768.6 709.5,769.1 710.0,770.2 710.5,770.3 711.0,770.0 711.5,770.8 712.0,769.0 712.5,768.4 713.0,769.6 713.5,767.2 714.0,770.7 714.5,770.3 715.0,770.3 715.5,768.3 716.0,769.1 716.5,769.7 717.0,768.4 717.5,768.3 718.0,769.4 718.5,769.8 719.0,768.9 719.5,770.9 720.0,772.3 720.5,770.4 721.0,769.5 721.5,769.3 722.0,771.6 722.5,770.1 723.0,770.4 723.5,770.0 724.0,769.0 724.5,771.5 725.0,769.4 725.5,769.9 726.0,767.1 726.5,772.3 727.0,770.6 727.5,769.6 728.0,768.7 728.5,769.0 729.0,767.6 729.5,770.3 730.0,768.6 730.5,770.2 731.0,770.3 731.5,772.0 732.0,770.0 732.5,770.1 733.0,770.3 733.5,769.0 734.0,769.4 734.5,770.1 735.0,771.1 735.5,770.6 736.0,769.4 736.5,771.2 737.0,769.3 737.5,767.9 738.0,771.7 738.5,769.8 739.0,769.2 739.5,768.3 740.0,769.3 740.5,771.8 741.0,769.7 741.5,772.5 742.0,769.9 742.5,771.2 743.0,769.9 743.5,769.3 744.0,769.3 744.5,769.5 745.0,768.4 745.5,768.4 746.0,770.3 746.5,771.4 747.0,770.1 747.5,769.9 748.0,768.8 748.5,771.2 749.0,771.1 749.5,768.5 750.0,770.0 750.5,769.5 751.0,768.1 751.5,771.8 752.0,771.3 752.5,770.3 753.0,771.6 753.5,769.3 754.0,770.2 754.5,771.5 755.0,769.5 755.5,770.3 756.0,768.7 756.5,770.7 757.0,771.3 757.5,768.7 758.0,768.9 758.5,769.8 759.0,771.6 759.5,769.3 760.0,768.9 760.5,769.8 761.0,771.3 761.5,768.0 762.0,769.7 762.5,771.5 763.0,769.8 763.5,769.5 764.0,770.9 764.5,768.4 765.0,772.3 765.5,770.4 766.0,769.4 766.5,770.0 767.0,769.8 767.5,769.5 768.0,768.4 768.5,769.6 769.0,767.8 769.5,771.5 770.0,768.5 770.5,769.0 771.0,768.9 771.5,770.7 772.0,769.6 772.5,771.6 773.0,769.3 773.5,770.0 774.0,769.8 774.5,769.4 775.0,771.2 775.5,771.3 776.0,771.4 776.5,768.2 777.0,770.3 777.5,768.5 778.0,768.5 778.5,767.7 779.0,768.7 779.5,770.6 780.0,771.5 780.5,771.9 781.0,768.8 781.5,769.1 782.0,770.1 782.5,770.0 783.0,770.1 783.5,767.8 784.0,769.6 784.5,770.6 785.0,770.2 785.5,769.7 786.0,769.0 786.5,769.8 787.0,771.8 787.5,770.5 788.0,771.1 788.5,771.9 789.0,768.6 789.5,770.7 790.0,770.4 790.5,771.5 791.0,769.6 791.5,769.6 792.0,769.1 792.5,770.1 793.0,769.5 793.5,769.7 794.0,770.3 794.5,769.4 795.0,768.7 795.5,769.4 796.0,769.2 796.5,770.4 797.0,771.4 797.5,769.5 798.0,766.9 798.5,770.6 799.0,769.8 799.5,768.7 800.0,769.6 800.5,772.1 801.0,768.1 801.5,768.5 802.0,769.8 802.5,766.1 803.0,769.3 803.5,771.0 804.0,770.5 804.5,770.3 805.0,769.5 805.5,769.7 806.0,773.2 806.5,770.2 807.0,771.5 807.5,768.4 808.0,770.2 808.5,770.3 809.0,770.1 809.5,767.3 810.0,769.4 810.5,771.6 811.0,770.6 811.5,769.0 812.0,770.9 812.5,767.6 813.0,770.6 813.5,770.3 814.0,769.2 814.5,768.7 815.0,767.9 815.5,769.6 816.0,772.0 816.5,770.9 817.0,770.4 817.5,771.0 818.0,769.2 818.5,770.5 819.0,766.4 819.5,769.3 820.0,769.3 820.5,769.8 821.0,769.7 821.5,770.6 822.0,769.2 822.5,771.0 823.0,769.6 823.5,771.0 824.0,770.0 824.5,770.9 825.0,770.5 825.5,769.2 826.0,770.1 826.5,768.3 827.0,770.0 827.5,770.4 828.0,769.6 828.5,769.7 829.0,771.1 829.5,771.4 830.0,771.6 830.5,769.2 831.0,769.4 831.5,770.9 832.0,771.0 832.5,767.7 833.0,772.3" fill="none" stroke="#0000dd" stroke-width="4" stroke-linejoin="round"/>
<path d="M 312.5,553 L 313.5,540 L 316,532 L 317.5,522 L 320.5,519 L 321,505 L 324.5,505 L 325.5,513 L 330,513 L 330.5,510 L 336,510 L 337,518 L 339.5,525 L 340.5,545 L 342,553 L 343.5,580 L 339,580 L 337,556 L 324,553 L 321,556 L 320,575 L 314.5,592 L 304,600 L 301,592 L 308,566 Z" fill="#0000dd"/>
<path d="M470.0,769.6 470.6,762.7 471.2,768.4 471.8,767.2 472.4,769.0 473.0,767.7 473.6,769.7 474.2,767.3 474.8,766.5 475.4,768.1 476.0,767.9 476.6,766.8 477.2,767.0 477.8,768.4 478.4,768.4 479.0,766.8 479.6,767.0 480.2,765.0 480.8,769.8 481.4,767.1 482.0,769.3 482.6,768.0 483.2,770.1 483.8,769.5 484.4,769.8 485.0,769.3 485.6,765.9 486.2,769.0 486.8,765.1 487.4,767.6 488.0,768.6 488.6,764.8 489.2,766.5 489.8,765.9 490.4,766.5 491.0,768.4 491.6,768.2 492.2,766.5 492.8,765.1 493.4,767.8 494.0,760.8 494.6,766.0 495.2,765.7 495.8,767.8 496.4,767.0 497.0,767.3 497.6,767.0 498.2,765.6 498.8,767.3 499.4,768.5 500.0,766.4 500.6,767.4 501.2,766.4 501.8,768.0 502.4,767.5 503.0,767.8 503.6,767.1 504.2,768.9 504.8,766.1 505.4,766.2 506.0,765.8 506.6,767.5 507.2,765.8 507.8,765.8 508.4,767.7 509.0,768.4 509.6,767.5 510.2,763.0 510.8,765.4 511.4,765.3 512.0,765.1 512.6,766.2 513.2,769.4 513.8,766.4 514.4,765.8 515.0,767.9 515.6,767.0 516.2,767.1 516.8,766.0 517.4,766.9 518.0,767.6 518.6,764.3 519.2,764.7 519.8,768.5 520.4,768.2 521.0,766.2 521.6,765.5 522.2,766.6 522.8,765.1 523.4,766.3 524.0,769.0 524.6,766.8 525.2,768.2 525.8,766.3 526.4,767.0 527.0,768.4 527.6,764.6 528.2,765.9 528.8,766.1 529.4,766.7 530.0,768.4 530.6,763.9 531.2,764.1 531.8,765.7 532.4,764.8 533.0,764.7 533.6,768.8 534.2,764.4 534.8,766.2 535.4,764.8 536.0,759.8 536.6,766.3 537.2,765.9 537.8,765.6 538.4,767.2 539.0,764.3 539.6,764.5 540.2,764.0 540.8,767.4 541.4,765.2 542.0,764.2 542.6,758.4 543.2,769.3 543.8,765.7 544.4,767.1 545.0,766.7 545.6,766.0 546.2,765.2 546.8,763.2 547.4,765.7 548.0,763.2 548.6,763.5 549.2,767.7 549.8,766.6 550.4,766.3 551.0,765.5 551.6,768.0 552.2,766.5 552.8,767.5 553.4,764.9 554.0,767.4 554.6,769.8 555.2,766.6 555.8,768.2 556.4,767.2 557.0,768.7 557.6,768.8 558.2,767.4 558.8,766.6 559.4,774.5 560.0,767.6 560.6,766.6 561.2,768.1 561.8,768.1 562.4,766.2 563.0,767.3 563.6,771.5 564.2,768.5 564.8,767.5 565.4,770.9 566.0,766.7 566.6,763.9 567.2,764.7 567.8,765.2 568.4,767.7 569.0,768.6 569.6,764.2 570.2,768.8 570.8,765.5 571.4,767.6 572.0,767.8 572.6,767.8 573.2,767.2 573.8,767.4 574.4,765.5 575.0,767.5 575.6,768.5 576.2,768.4 576.8,770.7 577.4,768.6 578.0,768.1 578.6,769.4 579.2,767.4 579.8,759.3 580.4,763.9 581.0,768.8 581.6,767.8 582.2,768.1 582.8,766.5 583.4,767.4 584.0,769.5 584.6,767.4 585.2,765.3 585.8,762.1 586.4,768.8 587.0,765.3 587.6,763.2 588.2,763.6 588.8,764.9 589.4,767.9 590.0,766.9 590.6,765.7 591.2,764.9 591.8,766.5 592.4,766.5 593.0,765.9 593.6,766.3 594.2,765.6 594.8,769.2 595.4,763.3 596.0,766.8 596.6,765.2 597.2,767.6 597.8,766.2 598.4,767.1 599.0,767.3 599.6,766.8 600.2,767.9 600.8,764.5 601.4,767.8 602.0,766.1 602.6,767.0 603.2,768.6 603.8,768.0 604.4,769.2 605.0,763.2 605.6,765.0 606.2,767.7 606.8,764.7 607.4,766.1 608.0,768.7 608.6,767.5 609.2,764.9 609.8,766.9 610.4,767.1 611.0,766.3 611.6,766.1 612.2,766.4 612.8,764.1 613.4,766.3 614.0,764.8 614.6,766.7 615.2,766.7 615.8,764.9 616.4,766.9 617.0,766.6 617.6,766.0 618.2,767.1 618.8,765.6 619.4,765.6 620.0,766.1 620.6,765.9 621.2,767.6 621.8,767.1 622.4,765.5 623.0,763.1 623.6,765.2 624.2,766.2 624.8,765.8 625.4,767.2 626.0,766.3 626.6,761.9 627.2,764.2 627.8,767.9 628.4,767.9 629.0,765.8 629.6,763.5 630.2,768.7 630.8,762.7 631.4,766.1 632.0,765.5 632.6,765.9 633.2,763.9 633.8,755.7 634.4,767.0 635.0,764.8 635.6,763.6 636.2,765.5 636.8,765.6 637.4,765.3 638.0,764.3 638.6,766.2 639.2,774.5 639.8,763.7 640.4,765.7 641.0,765.4 641.6,765.6 642.2,763.1 642.8,764.4 643.4,766.1 644.0,766.8 644.6,766.0 645.2,765.8 645.8,766.6 646.4,767.0 647.0,768.2 647.6,766.4 648.2,764.9 648.8,766.4 649.4,763.1 650.0,765.9 650.6,768.4 651.2,765.8 651.8,766.6 652.4,766.0 653.0,763.9 653.6,760.4 654.2,764.9 654.8,766.0 655.4,766.6 656.0,764.7 656.6,767.1 657.2,768.0 657.8,765.8 658.4,767.2 659.0,764.1 659.6,765.5 660.2,767.6 660.8,763.8 661.4,765.6 662.0,765.1 662.6,767.9 663.2,768.0 663.8,765.5 664.4,766.6 665.0,762.8 665.6,767.6 666.2,767.0 666.8,768.4 667.4,763.2 668.0,767.0 668.6,766.1 669.2,762.9 669.8,758.4 670.4,766.5 671.0,767.8 671.6,767.0 672.2,766.0 672.8,767.3 673.4,765.7 674.0,765.9 674.6,765.4 675.2,767.0 675.8,767.1 676.4,769.4 677.0,766.2 677.6,769.1 678.2,767.4 678.8,768.6 679.4,765.7 680.0,759.2 680.6,766.5 681.2,768.2 681.8,767.2 682.4,768.0 683.0,767.4 683.6,768.3 684.2,767.2 684.8,766.1 685.4,767.6 686.0,767.0 686.6,769.3 687.2,766.6 687.8,767.0 688.4,771.1 689.0,768.4 689.6,768.0 690.2,767.7 690.8,765.0 691.4,764.6 692.0,767.1 692.6,767.7 693.2,768.7 693.8,764.1 694.4,766.4 695.0,764.3 695.6,765.3 696.2,766.3 696.8,767.9 697.4,765.8 698.0,773.0 698.6,766.1 699.2,768.3 699.8,769.9 700.4,764.3 701.0,766.1 701.6,765.9 702.2,768.1 702.8,767.0 703.4,768.6 704.0,765.0 704.6,766.4 705.2,769.9 705.8,764.8 706.4,766.1 707.0,764.7 707.6,769.4 708.2,774.5 708.8,764.9 709.4,770.5 710.0,768.7 710.6,765.6 711.2,767.2 711.8,767.0 712.4,767.7 713.0,767.1 713.6,765.9 714.2,765.3 714.8,763.6 715.4,766.0 716.0,766.3 716.6,765.6 717.2,765.9 717.8,764.4 718.4,769.1 719.0,765.3 719.6,764.6 720.2,759.3 720.8,765.8 721.4,767.1 722.0,762.7 722.6,766.8 723.2,765.3 723.8,765.9 724.4,767.6 725.0,767.3 725.6,765.3 726.2,766.1 726.8,768.9 727.4,762.4 728.0,767.5 728.6,766.3 729.2,767.7 729.8,766.9 730.4,765.6 731.0,765.0 731.6,767.2 732.2,767.0 732.8,768.2 733.4,765.8 734.0,768.5 734.6,766.0 735.2,768.3 735.8,767.4 736.4,765.8 737.0,765.3 737.6,766.5 738.2,766.3 738.8,768.0 739.4,765.8 740.0,767.4 740.6,766.8 741.2,769.5 741.8,769.1 742.4,766.0 743.0,766.5 743.6,767.3 744.2,766.0 744.8,766.6 745.4,769.1 746.0,765.5 746.6,766.1 747.2,766.3 747.8,767.4 748.4,765.4 749.0,767.2 749.6,765.7 750.2,766.0 750.8,765.6 751.4,772.8 752.0,763.7 752.6,769.1 753.2,768.4 753.8,766.9 754.4,767.4 755.0,767.7 755.6,768.0 756.2,768.2 756.8,769.5 757.4,763.3 758.0,766.7 758.6,768.4 759.2,767.0 759.8,767.3 760.4,769.6 761.0,767.7 761.6,769.9 762.2,767.3 762.8,767.7 763.4,765.8 764.0,764.5 764.6,766.7 765.2,767.3 765.8,766.7 766.4,765.3 767.0,768.1 767.6,767.2 768.2,767.1 768.8,766.0 769.4,769.3 770.0,769.1 770.6,767.4 771.2,766.8 771.8,767.3 772.4,769.3 773.0,770.8 773.6,766.8 774.2,773.0 774.8,764.2 775.4,770.6 776.0,765.2 776.6,767.9 777.2,767.3 777.8,768.5 778.4,765.4 779.0,764.3 779.6,766.7 780.2,767.1 780.8,768.1 781.4,764.1 782.0,765.8 782.6,766.0 783.2,764.4 783.8,766.1 784.4,767.4 785.0,766.2 785.6,764.2 786.2,766.7 786.8,767.4 787.4,766.9 788.0,767.2 788.6,763.8 789.2,766.7 789.8,763.6 790.4,765.5 791.0,765.9 791.6,764.9 792.2,767.8 792.8,765.6 793.4,764.7 794.0,763.8 794.6,766.2 795.2,767.0 795.8,764.9 796.4,765.1 797.0,766.6 797.6,769.2 798.2,766.8 798.8,764.2 799.4,766.4 800.0,765.0 800.6,763.5 801.2,765.2 801.8,765.3 802.4,766.7 803.0,768.0 803.6,767.8 804.2,767.3 804.8,765.6 805.4,766.4 806.0,766.1 806.6,768.2 807.2,765.3 807.8,760.0 808.4,768.3 809.0,767.0 809.6,765.6 810.2,761.8 810.8,766.5 811.4,766.5 812.0,767.4 812.6,766.8 813.2,772.9 813.8,765.6 814.4,763.9 815.0,765.7 815.6,767.9 816.2,766.6 816.8,765.4 817.4,766.0 818.0,765.1 818.6,766.7 819.2,769.2 819.8,768.9 820.4,768.0 821.0,767.5 821.6,773.2 822.2,764.6 822.8,766.4 823.4,765.8 824.0,767.6 824.6,766.6 825.2,765.6 825.8,767.1 826.4,770.5 827.0,765.2 827.6,768.0 828.2,767.3 828.8,766.3 829.4,765.4 830.0,766.5 830.6,766.8 831.2,767.6 831.8,767.5 832.4,757.0 833.0,765.6" fill="none" stroke="#0000dd" stroke-width="3" stroke-linejoin="round"/>
<path d="M113.0,773.8 113.5,771.9 114.0,771.2 114.5,769.6 115.0,772.4 115.5,774.1 116.0,772.7 116.5,773.2 117.0,773.7 117.5,771.5 118.0,774.5 118.5,771.4 119.0,772.7 119.5,774.5 120.0,772.1 120.5,772.2 121.0,771.5 121.5,772.4 122.0,769.6 122.5,771.2 123.0,773.7 123.5,772.0 124.0,771.4 124.5,772.1 125.0,772.0 125.5,771.7 126.0,772.1 126.5,769.6 127.0,772.0 127.5,770.6 128.0,772.1 128.5,771.2 129.0,770.0 129.5,771.0 130.0,769.9 130.5,772.0 131.0,770.7 131.5,771.6 132.0,769.3 132.5,772.2 133.0,769.9 133.5,771.6 134.0,770.9 134.5,768.7 135.0,770.1 135.5,769.0 136.0,770.0 136.5,771.0 137.0,770.0 137.5,770.3 138.0,767.7 138.5,769.1 139.0,769.1 139.5,769.8 140.0,767.8 140.5,769.0 141.0,768.7 141.5,766.4 142.0,766.9 142.5,768.4 143.0,766.5 143.5,766.3 144.0,768.5 144.5,767.7 145.0,767.0 145.5,767.2 146.0,766.6 146.5,766.3 147.0,766.2 147.5,767.0 148.0,768.0 148.5,765.9 149.0,766.2 149.5,765.9 150.0,764.6 150.5,766.3 151.0,767.6 151.5,763.2 152.0,767.0 152.5,763.3 153.0,767.2 153.5,767.1 154.0,763.0 154.5,758.9 155.0,762.6 155.5,759.8 156.0,759.7 156.5,762.0 157.0,765.6 157.5,761.9 158.0,761.3 158.5,757.1 159.0,759.9 159.5,761.1 160.0,762.0 160.5,759.3 161.0,751.2 161.5,760.0 162.0,759.3 162.5,761.8 163.0,760.4 163.5,758.2 164.0,759.1 164.5,759.8 165.0,761.5 165.5,758.3 166.0,755.2 166.5,756.0 167.0,756.6 167.5,753.3 168.0,758.6 168.5,753.9 169.0,753.6 169.5,757.9 170.0,754.3 170.5,753.5 171.0,757.4 171.5,754.4 172.0,756.8 172.5,747.0 173.0,755.8 173.5,756.4 174.0,753.7 174.5,757.6 175.0,744.7 175.5,752.2 176.0,752.7 176.5,754.6 177.0,751.3 177.5,750.7 178.0,752.0 178.5,754.2 179.0,749.9 179.5,747.6 180.0,750.1 180.5,751.6 181.0,748.6 181.5,749.9 182.0,744.9 182.5,749.2 183.0,749.1 183.5,750.1 184.0,749.1 184.5,749.9 185.0,745.4 185.5,749.1 186.0,743.3 186.5,745.6 187.0,749.4 187.5,753.6 188.0,741.8 188.5,747.4 189.0,744.7 189.5,743.6 190.0,745.7 190.5,745.2 191.0,748.0 191.5,741.0 192.0,743.1 192.5,743.6 193.0,739.2 193.5,746.2 194.0,747.3 194.5,741.4 195.0,743.5 195.5,741.7 196.0,742.7 196.5,740.2 197.0,743.6 197.5,738.5 198.0,744.3 198.5,741.6 199.0,746.3 199.5,736.3 200.0,739.8 200.5,736.4 201.0,738.7 201.5,739.6 202.0,735.9 202.5,734.2 203.0,733.0 203.5,731.2 204.0,739.2 204.5,737.6 205.0,735.3 205.5,732.4 206.0,733.4 206.5,730.1 207.0,729.5 207.5,735.4 208.0,731.7 208.5,732.6 209.0,730.7 209.5,734.1 210.0,733.9 210.5,728.1 211.0,732.8 211.5,727.3 212.0,731.6 212.5,731.0 213.0,726.8 213.5,732.6 214.0,726.6 214.5,723.2 215.0,720.7 215.5,724.6 216.0,725.8 216.5,722.0 217.0,725.0 217.5,727.5 218.0,722.5 218.5,725.3 219.0,727.8 219.5,723.1 220.0,718.7 220.5,721.9 221.0,721.8 221.5,727.1 222.0,717.3 222.5,712.8 223.0,719.0 223.5,718.6 224.0,715.5 224.5,718.5 225.0,717.1 225.5,719.9 226.0,712.1 226.5,712.2 227.0,714.2 227.5,712.0 228.0,717.9 228.5,720.1 229.0,712.4 229.5,717.5 230.0,713.4 230.5,714.8 231.0,713.6 231.5,709.7 232.0,709.3 232.5,709.4 233.0,705.0 233.5,707.3 234.0,711.2 234.5,708.8 235.0,703.8 235.5,715.3 236.0,702.6 236.5,708.1 237.0,708.1 237.5,709.6 238.0,701.5 238.5,713.1 239.0,703.0 239.5,707.4 240.0,704.2 240.5,703.9 241.0,703.9 241.5,708.6 242.0,703.5 242.5,703.8 243.0,701.8 243.5,702.3 244.0,694.9 244.5,702.4 245.0,699.1 245.5,694.9 246.0,693.6 246.5,696.9 247.0,697.3 247.5,694.4 248.0,694.8 248.5,694.4 249.0,693.2 249.5,694.0 250.0,695.2 250.5,698.3 251.0,695.3 251.5,690.3 252.0,695.8 252.5,695.4 253.0,689.6 253.5,693.6 254.0,687.4 254.5,685.9 255.0,678.1 255.5,693.2 256.0,687.3 256.5,687.3 257.0,685.8 257.5,683.5 258.0,686.0 258.5,686.1 259.0,690.1 259.5,679.4 260.0,687.3 260.5,683.6 261.0,674.3 261.5,683.4 262.0,685.1 262.5,682.6 263.0,678.9 263.5,678.0 264.0,670.5 264.5,677.3 265.0,676.2 265.5,671.2 266.0,674.3 266.5,670.3 267.0,679.8 267.5,666.3 268.0,666.5 268.5,668.2 269.0,666.4 269.5,667.2 270.0,665.9 270.5,662.6 271.0,667.1 271.5,663.8 272.0,666.3 272.5,660.6 273.0,653.8 273.5,658.6 274.0,654.5 274.5,660.2 275.0,654.1 275.5,648.5 276.0,653.5 276.5,646.8 277.0,649.6 277.5,652.8 278.0,646.3 278.5,646.4 279.0,646.3 279.5,642.0 280.0,642.1 280.5,643.4 281.0,639.1 281.5,639.4 282.0,637.4 282.5,632.8 283.0,630.6 283.5,641.1 284.0,637.6 284.5,630.9 285.0,633.5 285.5,632.7 286.0,630.9 286.5,624.8 287.0,619.7 287.5,619.0 288.0,621.3 288.5,625.7 289.0,625.2 289.5,617.4 290.0,615.7 290.5,620.0 291.0,621.7 291.5,609.7 292.0,613.4 292.5,610.9 293.0,607.9 293.5,608.4 294.0,608.8 294.5,610.4 295.0,605.3 295.5,611.2 296.0,614.5 296.5,614.8 297.0,615.4 297.5,614.1 298.0,614.1 298.5,620.8 299.0,613.6 299.5,615.3 300.0,618.1 300.5,616.8 301.0,615.3 301.5,618.7 302.0,620.6 302.5,622.9 303.0,623.9 303.5,628.9 304.0,629.9 304.5,631.0 305.0,630.5 305.5,635.6 306.0,637.2 306.5,641.7 307.0,636.6 307.5,638.2 308.0,642.0 308.5,636.5 309.0,642.6 309.5,640.2 310.0,640.1 310.5,638.1 311.0,640.7 311.5,637.4 312.0,637.5 312.5,640.4 313.0,642.3 313.5,642.2 314.0,643.0 314.5,643.2 315.0,644.2 315.5,642.6 316.0,643.9 316.5,641.5 317.0,641.9 317.5,642.7 318.0,642.7 318.5,642.0 319.0,642.8 319.5,647.1 320.0,646.7 320.5,644.9 321.0,646.8 321.5,648.1 322.0,652.8 322.5,642.8 323.0,647.3 323.5,643.8 324.0,650.1 324.5,646.7 325.0,648.5 325.5,648.1 326.0,649.4 326.5,641.0 327.0,645.3 327.5,649.3 328.0,646.9 328.5,652.4 329.0,655.0 329.5,650.0 330.0,653.1 330.5,656.6 331.0,660.4 331.5,659.5 332.0,659.8 332.5,657.0 333.0,660.2 333.5,661.5 334.0,661.0 334.5,664.5 335.0,664.0 335.5,664.8 336.0,672.1 336.5,667.7 337.0,673.8 337.5,669.5 338.0,671.4 338.5,669.8 339.0,672.5 339.5,678.8 340.0,676.2 340.5,672.5 341.0,681.8 341.5,677.5 342.0,679.7 342.5,681.8 343.0,678.5 343.5,688.0 344.0,688.6 344.5,686.0 345.0,688.9 345.5,688.6 346.0,689.1 346.5,691.2 347.0,689.6 347.5,692.1 348.0,702.0 348.5,701.3 349.0,694.5 349.5,702.3 350.0,702.8 350.5,702.1 351.0,701.6 351.5,708.6 352.0,709.0 352.5,706.6 353.0,707.5 353.5,709.2 354.0,713.9 354.5,708.2 355.0,711.3 355.5,714.6 356.0,709.4 356.5,713.3 357.0,716.9 357.5,714.3 358.0,710.0 358.5,712.9 359.0,718.3 359.5,715.4 360.0,718.1 360.5,720.6 361.0,719.2 361.5,721.7 362.0,723.8 362.5,724.1 363.0,726.1 363.5,724.1 364.0,720.1 364.5,728.1 365.0,728.7 365.5,726.5 366.0,726.4 366.5,732.0 367.0,728.9 367.5,729.7 368.0,738.7 368.5,737.4 369.0,730.8 369.5,726.9 370.0,733.4 370.5,731.8 371.0,730.7 371.5,735.7 372.0,734.8 372.5,738.7 373.0,744.7 373.5,740.7 374.0,740.8 374.5,739.2 375.0,741.6 375.5,744.7 376.0,742.6 376.5,738.2 377.0,742.4 377.5,743.3 378.0,746.4 378.5,743.8 379.0,747.4 379.5,745.0 380.0,746.0 380.5,746.0 381.0,747.2 381.5,747.5 382.0,749.3 382.5,747.3 383.0,747.2 383.5,749.9 384.0,750.8 384.5,749.9 385.0,754.1 385.5,752.4 386.0,756.0 386.5,748.9 387.0,757.4 387.5,747.5 388.0,749.2 388.5,754.4 389.0,751.9 389.5,756.4 390.0,753.8 390.5,752.1 391.0,752.4 391.5,755.1 392.0,757.2 392.5,763.2 393.0,757.5 393.5,756.7 394.0,760.7 394.5,753.1 395.0,758.7 395.5,762.1 396.0,763.3 396.5,762.7 397.0,754.5 397.5,763.1 398.0,761.3 398.5,756.1 399.0,760.6 399.5,761.5 400.0,763.8 400.5,762.9 401.0,763.2 401.5,764.0 402.0,763.3 402.5,764.2 403.0,764.7 403.5,764.5 404.0,764.9 404.5,764.1 405.0,764.7 405.5,765.5 406.0,766.6 406.5,765.8 407.0,765.8 407.5,766.2 408.0,767.3 408.5,766.3 409.0,767.5 409.5,767.4 410.0,767.9 410.5,767.7 411.0,768.4 411.5,769.4 412.0,768.7 412.5,768.8 413.0,767.9 413.5,769.7 414.0,769.2 414.5,769.8 415.0,769.7 415.5,769.3 416.0,769.4 416.5,769.1 417.0,771.2 417.5,770.6 418.0,770.6 418.5,770.9 419.0,771.1 419.5,770.8 420.0,771.0 420.5,772.0 421.0,769.5 421.5,770.7 422.0,770.3 422.5,770.8 423.0,769.3 423.5,770.3 424.0,771.5 424.5,770.3 425.0,771.5 425.5,770.6 426.0,771.0 426.5,770.2 427.0,770.8 427.5,770.2 428.0,771.5 428.5,770.1 429.0,771.3 429.5,770.8 430.0,771.1 430.5,772.0 431.0,771.0 431.5,770.8 432.0,771.2 432.5,771.6 433.0,770.8 433.5,772.2 434.0,771.3 434.5,771.0 435.0,770.8 435.5,771.1 436.0,771.5 436.5,771.8 437.0,771.2 437.5,770.8 438.0,771.2 438.5,769.9 439.0,771.9 439.5,771.7 440.0,771.1 440.5,771.6 441.0,770.6 441.5,772.3 442.0,771.2 442.5,771.0 443.0,772.5 443.5,770.7 444.0,771.6 444.5,770.8 445.0,771.0 445.5,771.2 446.0,771.0 446.5,772.2 447.0,772.0 447.5,771.0 448.0,772.8 448.5,771.3 449.0,771.3 449.5,771.6 450.0,770.7 450.5,772.2 451.0,770.8 451.5,770.6 452.0,772.0 452.5,770.8 453.0,771.2 453.5,770.6 454.0,771.1 454.5,771.4 455.0,769.9 455.5,771.3 456.0,770.8 456.5,772.1 457.0,772.5 457.5,771.6 458.0,771.6 458.5,771.9 459.0,771.9 459.5,770.4 460.0,770.5 460.5,771.0 461.0,770.4 461.5,771.1 462.0,771.3 462.5,770.8 463.0,771.5 463.5,772.1 464.0,771.3 464.5,771.5 465.0,771.2 465.5,771.2 466.0,770.9 466.5,770.6 467.0,771.6 467.5,771.9 468.0,771.2 468.5,771.3 469.0,770.4 469.5,771.1 470.0,771.4 470.5,771.2 471.0,771.2 471.5,770.6 472.0,770.5 472.5,771.1 473.0,772.1 473.5,771.0 474.0,770.3 474.5,770.8 475.0,771.1 475.5,771.9 476.0,771.8 476.5,770.7 477.0,770.6 477.5,771.0 478.0,771.2 478.5,770.6 479.0,771.8 479.5,770.9 480.0,771.3 480.5,771.1 481.0,771.5 481.5,771.1 482.0,771.3 482.5,771.9 483.0,771.3 483.5,772.0 484.0,770.4 484.5,771.1 485.0,770.6 485.5,770.3 486.0,771.2 486.5,772.3 487.0,771.3 487.5,771.8 488.0,770.0 488.5,771.3 489.0,770.5 489.5,771.3 490.0,771.8 490.5,770.9 491.0,771.8 491.5,770.7 492.0,771.2 492.5,770.8 493.0,771.2 493.5,771.0 494.0,769.8 494.5,770.9 495.0,770.8 495.5,772.1 496.0,769.7 496.5,771.2 497.0,771.6 497.5,772.2 498.0,771.9 498.5,771.1 499.0,772.0 499.5,771.0 500.0,771.0 500.5,770.9 501.0,770.9 501.5,772.0 502.0,770.1 502.5,770.2 503.0,771.7 503.5,771.4 504.0,771.6 504.5,771.0 505.0,771.5 505.5,771.0 506.0,770.8 506.5,770.8 507.0,771.2 507.5,771.1 508.0,770.9 508.5,772.0 509.0,771.4 509.5,770.9 510.0,770.3 510.5,771.0 511.0,770.1 511.5,770.6 512.0,770.4 512.5,770.5 513.0,771.2 513.5,769.1 514.0,771.9 514.5,771.3 515.0,770.8 515.5,770.7 516.0,771.5 516.5,771.0 517.0,772.1 517.5,770.9 518.0,770.5 518.5,770.2 519.0,771.0 519.5,771.6 520.0,770.3 520.5,771.8 521.0,771.5 521.5,770.8 522.0,771.8 522.5,770.0 523.0,769.7 523.5,771.2 524.0,771.3 524.5,771.3 525.0,771.0 525.5,770.2 526.0,771.4 526.5,770.8 527.0,771.6 527.5,771.2 528.0,770.3 528.5,771.4 529.0,771.5 529.5,771.5 530.0,770.6 530.5,770.4 531.0,771.5 531.5,771.0 532.0,771.0 532.5,771.6 533.0,771.7 533.5,771.4 534.0,770.9 534.5,771.9 535.0,770.4 535.5,771.0 536.0,771.2 536.5,770.2 537.0,770.6 537.5,771.6 538.0,771.0 538.5,770.4 539.0,772.0 539.5,771.2 540.0,771.1 540.5,772.2 541.0,770.2 541.5,770.7 542.0,770.5 542.5,771.8 543.0,770.6 543.5,772.5 544.0,771.3 544.5,771.2 545.0,771.6 545.5,770.9 546.0,770.5 546.5,770.7 547.0,771.1 547.5,770.5 548.0,771.1 548.5,770.7 549.0,770.9 549.5,771.0 550.0,772.0 550.5,772.4 551.0,772.2 551.5,771.0 552.0,770.7 552.5,771.8 553.0,772.0 553.5,771.7 554.0,770.8 554.5,771.4 555.0,771.0 555.5,771.8 556.0,771.8 556.5,771.3 557.0,771.0 557.5,772.3 558.0,771.3 558.5,771.7 559.0,771.5 559.5,771.7 560.0,771.9 560.5,771.0 561.0,771.0 561.5,771.6 562.0,769.3 562.5,771.2 563.0,770.9 563.5,771.7 564.0,771.4 564.5,771.1 565.0,770.5 565.5,771.1 566.0,771.0 566.5,771.3 567.0,771.4 567.5,770.8 568.0,771.5 568.5,770.9 569.0,771.5 569.5,771.4 570.0,772.0 570.5,771.2 571.0,772.2 571.5,771.0 572.0,770.7 572.5,771.6 573.0,770.5 573.5,771.4 574.0,771.4 574.5,771.3 575.0,771.5 575.5,771.3 576.0,772.0 576.5,771.1 577.0,770.0 577.5,771.0 578.0,771.7 578.5,771.8 579.0,771.6 579.5,771.2 580.0,770.7 580.5,772.2 581.0,770.9 581.5,770.6 582.0,769.8 582.5,772.4 583.0,771.2 583.5,770.1 584.0,771.7 584.5,771.6 585.0,770.2 585.5,771.7 586.0,771.2 586.5,771.6 587.0,772.0 587.5,771.0 588.0,772.5 588.5,771.1 589.0,770.8 589.5,771.9 590.0,770.8 590.5,771.0 591.0,771.7 591.5,770.7 592.0,770.4 592.5,771.3 593.0,771.2 593.5,770.8 594.0,771.7 594.5,770.4 595.0,771.6 595.5,770.5 596.0,771.4 596.5,770.4 597.0,771.5 597.5,771.1 598.0,770.9 598.5,771.2 599.0,771.0 599.5,771.6 600.0,770.7 600.5,771.4 601.0,770.9 601.5,770.7 602.0,770.8 602.5,770.4 603.0,771.3 603.5,771.1 604.0,771.3 604.5,770.1 605.0,770.8 605.5,772.0 606.0,771.8 606.5,771.0 607.0,771.1 607.5,771.2 608.0,771.7 608.5,772.0 609.0,771.3 609.5,771.3 610.0,771.1 610.5,771.3 611.0,772.2 611.5,770.7 612.0,771.5 612.5,770.4 613.0,770.5 613.5,770.1 614.0,770.8 614.5,772.0 615.0,772.1 615.5,771.6 616.0,771.1 616.5,771.7 617.0,770.5 617.5,770.3 618.0,770.6 618.5,771.0 619.0,770.0 619.5,770.6 620.0,772.1 620.5,771.0 621.0,770.9 621.5,770.7 622.0,771.5 622.5,771.5 623.0,771.1 623.5,771.0 624.0,769.8 624.5,770.2 625.0,770.8 625.5,770.7 626.0,770.9 626.5,770.8 627.0,772.1 627.5,771.7 628.0,770.4 628.5,771.5 629.0,771.3 629.5,771.0 630.0,770.9 630.5,771.3 631.0,772.2 631.5,770.8 632.0,771.0 632.5,771.0 633.0,770.1 633.5,771.1 634.0,770.6 634.5,771.2 635.0,771.3 635.5,772.2 636.0,771.0 636.5,770.9 637.0,771.5 637.5,772.3 638.0,771.2 638.5,771.4 639.0,771.4 639.5,771.4 640.0,770.8 640.5,770.7 641.0,770.7 641.5,770.9 642.0,771.3 642.5,770.6 643.0,770.7 643.5,771.1 644.0,771.0 644.5,771.2 645.0,770.4 645.5,772.2 646.0,771.0 646.5,771.0 647.0,770.6 647.5,771.4 648.0,771.7 648.5,771.1 649.0,771.0 649.5,771.0 650.0,772.4 650.5,771.4 651.0,770.9 651.5,771.2 652.0,771.7 652.5,771.2 653.0,771.3 653.5,771.2 654.0,771.0 654.5,771.5 655.0,772.1 655.5,771.4 656.0,771.0 656.5,770.6 657.0,771.1 657.5,770.8 658.0,770.6 658.5,771.5 659.0,771.3 659.5,771.8 660.0,771.4 660.5,770.9 661.0,771.7 661.5,771.4 662.0,772.0 662.5,770.6 663.0,770.9 663.5,771.2 664.0,772.1 664.5,771.4 665.0,770.5 665.5,770.6 666.0,771.5 666.5,770.3 667.0,770.8 667.5,771.1 668.0,770.9 668.5,771.3 669.0,771.6 669.5,771.3 670.0,770.4 670.5,771.9 671.0,771.8 671.5,770.7 672.0,771.0 672.5,770.4 673.0,772.0 673.5,770.9 674.0,771.4 674.5,771.4 675.0,771.9 675.5,771.2 676.0,771.0 676.5,771.5 677.0,771.7 677.5,770.9 678.0,771.1 678.5,770.3 679.0,772.0 679.5,770.8 680.0,771.7 680.5,771.7 681.0,771.6 681.5,771.7 682.0,770.7 682.5,771.3 683.0,770.8 683.5,771.1 684.0,770.7 684.5,772.6 685.0,771.3 685.5,771.8 686.0,770.8 686.5,772.2 687.0,771.1 687.5,771.1 688.0,771.0 688.5,770.3 689.0,770.0 689.5,771.3 690.0,770.6 690.5,771.1 691.0,772.4 691.5,771.0 692.0,772.4 692.5,771.4 693.0,770.6 693.5,771.5 694.0,771.8 694.5,771.7 695.0,770.8 695.5,770.6 696.0,771.7 696.5,772.3 697.0,772.2 697.5,771.0 698.0,771.1 698.5,771.4 699.0,771.8 699.5,771.5 700.0,771.5 700.5,771.2 701.0,769.7 701.5,770.5 702.0,771.3 702.5,770.3 703.0,772.4 703.5,770.8 704.0,771.6 704.5,771.8 705.0,771.9 705.5,770.6 706.0,771.1 706.5,772.1 707.0,771.3 707.5,771.7 708.0,769.8 708.5,771.5 709.0,771.3 709.5,771.2 710.0,770.2 710.5,770.8 711.0,771.1 711.5,771.0 712.0,770.6 712.5,771.9 713.0,771.8 713.5,771.0 714.0,772.1 714.5,770.5 715.0,771.4 715.5,772.2 716.0,771.6 716.5,771.1 717.0,771.5 717.5,771.2 718.0,770.9 718.5,770.8 719.0,771.2 719.5,771.1 720.0,771.4 720.5,770.7 721.0,771.4 721.5,771.8 722.0,770.9 722.5,772.1 723.0,770.8 723.5,770.8 724.0,770.8 724.5,770.5 725.0,770.3 725.5,770.5 726.0,771.0 726.5,770.7 727.0,772.1 727.5,771.1 728.0,770.9 728.5,770.8 729.0,771.4 729.5,771.2 730.0,771.4 730.5,771.7 731.0,772.1 731.5,770.7 732.0,771.6 732.5,771.2 733.0,771.4 733.5,770.9 734.0,771.6 734.5,771.6 735.0,771.4 735.5,770.8 736.0,771.6 736.5,770.7 737.0,770.3 737.5,771.7 738.0,771.1 738.5,770.3 739.0,770.8 739.5,771.2 740.0,771.8 740.5,771.1 741.0,770.7 741.5,770.6 742.0,770.4 742.5,771.1 743.0,770.8 743.5,771.6 744.0,770.8 744.5,771.8 745.0,771.1 745.5,771.2 746.0,771.1 746.5,771.1 747.0,772.1 747.5,770.8 748.0,770.9 748.5,771.1 749.0,771.6 749.5,770.6 750.0,772.0 750.5,770.7 751.0,770.9 751.5,771.3 752.0,771.3 752.5,770.7 753.0,771.7 753.5,772.3 754.0,771.2 754.5,771.6 755.0,771.6 755.5,772.7 756.0,771.3 756.5,771.5 757.0,771.1 757.5,771.4 758.0,771.1 758.5,771.0 759.0,771.1 759.5,771.8 760.0,771.1 760.5,771.7 761.0,771.2 761.5,771.9 762.0,770.5 762.5,770.6 763.0,771.6 763.5,772.1 764.0,771.0 764.5,770.0 765.0,771.9 765.5,771.5 766.0,770.8 766.5,772.0 767.0,772.0 767.5,770.9 768.0,771.0 768.5,771.6 769.0,771.6 769.5,772.0 770.0,771.5 770.5,772.4 771.0,771.0 771.5,770.7 772.0,770.9 772.5,770.8 773.0,771.1 773.5,770.7 774.0,771.7 774.5,771.9 775.0,772.1 775.5,770.9 776.0,770.5 776.5,771.0 777.0,771.2 777.5,770.9 778.0,771.5 778.5,771.5 779.0,771.4 779.5,770.7 780.0,771.7 780.5,770.7 781.0,769.8 781.5,771.0 782.0,771.8 782.5,771.1 783.0,770.2 783.5,770.9 784.0,771.7 784.5,771.2 785.0,771.0 785.5,770.4 786.0,771.0 786.5,770.7 787.0,771.9 787.5,771.2 788.0,771.5 788.5,770.1 789.0,771.0 789.5,771.5 790.0,772.0 790.5,771.8 791.0,770.6 791.5,772.7 792.0,771.0 792.5,770.9 793.0,770.9 793.5,770.4 794.0,770.9 794.5,770.7 795.0,770.8 795.5,770.7 796.0,770.9 796.5,771.4 797.0,770.6 797.5,770.4 798.0,771.4 798.5,771.0 799.0,771.4 799.5,770.5 800.0,771.0 800.5,770.6 801.0,770.3 801.5,770.8 802.0,771.0 802.5,771.2 803.0,770.4 803.5,771.5 804.0,771.6 804.5,771.2 805.0,770.8 805.5,770.6 806.0,771.6 806.5,770.6 807.0,771.8 807.5,770.0 808.0,769.9 808.5,771.3 809.0,770.3 809.5,771.6 810.0,770.8 810.5,770.8 811.0,771.2 811.5,771.7 812.0,771.5 812.5,770.9 813.0,770.9 813.5,771.5 814.0,770.6 814.5,770.5 815.0,770.6 815.5,772.9 816.0,771.9 816.5,771.4 817.0,770.9 817.5,771.4 818.0,770.2 818.5,771.0 819.0,771.7 819.5,771.3 820.0,770.5 820.5,771.1 821.0,771.0 821.5,771.9 822.0,771.6 822.5,771.3 823.0,772.4 823.5,770.9 824.0,771.9 824.5,771.5 825.0,771.2 825.5,770.9 826.0,771.5 826.5,772.1 827.0,770.3 827.5,771.3 828.0,771.8 828.5,770.8 829.0,770.8 829.5,772.0 830.0,771.1 830.5,771.0 831.0,771.5 831.5,771.4 832.0,771.6 832.5,771.6 833.0,772.1" fill="none" stroke="#ff0000" stroke-width="6.2" stroke-linejoin="round"/>
<path d="M1216.0,465.6 1218.2,465.6 1218.2,467.7 1220.4,467.7 1220.4,459.9 1222.6,459.9 1222.6,461.0 1224.8,461.0 1224.8,435.2 1227.0,435.2 1227.0,410.7 1229.2,410.7 1229.2,385.2 1231.4,385.2 1231.4,337.1 1233.6,337.1 1233.6,297.6 1235.8,297.6 1235.8,266.5 1238.0,266.5 1238.0,235.6 1240.2,235.6 1240.2,209.5 1242.4,209.5 1242.4,196.4 1244.6,196.4 1244.6,196.8 1246.8,196.8 1246.8,204.1 1249.0,204.1 1249.0,206.5 1251.2,206.5 1251.2,212.1 1253.4,212.1 1253.4,208.4 1255.6,208.4 1255.6,200.8 1257.8,200.8 1257.8,202.9 1260.0,202.9 1260.0,200.0 1262.2,200.0 1262.2,197.5 1264.4,197.5 1264.4,195.3 1266.6,195.3 1266.6,196.5 1268.8,196.5 1268.8,196.0 1271.0,196.0 1271.0,197.6 1273.2,197.6 1273.2,196.0 1275.4,196.0 1275.4,198.4 1277.6,198.4 1277.6,193.9 1279.8,193.9 1279.8,195.9 1282.0,195.9 1282.0,195.9 1284.2,195.9 1284.2,193.4 1286.4,193.4 1286.4,192.9 1288.6,192.9 1288.6,196.8 1290.8,196.8 1290.8,195.9 1293.0,195.9 1293.0,194.7 1295.2,194.7 1295.2,195.7 1297.4,195.7 1297.4,193.8 1299.6,193.8 1299.6,195.4 1301.8,195.4 1301.8,193.8 1304.0,193.8 1304.0,195.1 1306.2,195.1 1306.2,196.5 1308.4,196.5 1308.4,194.0 1310.6,194.0 1310.6,196.0 1312.8,196.0 1312.8,192.5 1315.0,192.5 1315.0,193.7 1317.2,193.7 1317.2,191.7 1319.4,191.7 1319.4,193.8 1321.6,193.8 1321.6,194.1 1323.8,194.1 1323.8,193.6 1326.0,193.6 1326.0,193.5 1328.2,193.5 1328.2,196.4 1330.4,196.4 1330.4,196.6 1332.6,196.6 1332.6,191.8 1334.8,191.8 1334.8,196.1 1337.0,196.1 1337.0,191.0 1339.2,191.0 1339.2,193.2 1341.4,193.2 1341.4,194.5 1343.6,194.5 1343.6,196.5 1345.8,196.5 1345.8,197.2 1348.0,197.2 1348.0,200.5 1350.2,200.5 1350.2,207.4 1352.4,207.4 1352.4,220.5 1354.6,220.5 1354.6,234.8 1356.8,234.8 1356.8,250.7 1359.0,250.7 1359.0,264.7 1361.2,264.7 1361.2,282.9 1363.4,282.9 1363.4,303.0 1365.6,303.0 1365.6,324.8 1367.8,324.8 1367.8,347.7 1370.0,347.7 1370.0,370.9 1372.2,370.9 1372.2,390.4 1374.4,390.4 1374.4,413.8 1376.6,413.8 1376.6,426.2 1378.8,426.2 1378.8,436.0 1381.0,436.0 1381.0,446.5 1383.2,446.5 1383.2,453.8 1385.4,453.8 1385.4,457.4 1387.6,457.4 1387.6,456.3 1389.8,456.3 1389.8,458.1 1392.0,458.1 1392.0,461.0 1394.2,461.0 1394.2,460.8 1396.4,460.8 1396.4,465.9 1398.6,465.9 1398.6,466.1 1400.8,466.1" fill="none" stroke="#000" stroke-width="2.2"/>
<path d="M1216.0,463.2 1218.2,463.2 1218.2,463.4 1220.4,463.4 1220.4,461.0 1222.6,461.0 1222.6,451.0 1224.8,451.0 1224.8,430.9 1227.0,430.9 1227.0,404.3 1229.2,404.3 1229.2,376.6 1231.4,376.6 1231.4,328.0 1233.6,328.0 1233.6,288.5 1235.8,288.5 1235.8,255.1 1238.0,255.1 1238.0,224.3 1240.2,224.3 1240.2,202.9 1242.4,202.9 1242.4,196.0 1244.6,196.0 1244.6,195.5 1246.8,195.5 1246.8,198.2 1249.0,198.2 1249.0,198.6 1251.2,198.6 1251.2,201.2 1253.4,201.2 1253.4,198.0 1255.6,198.0 1255.6,195.2 1257.8,195.2 1257.8,193.8 1260.0,193.8 1260.0,192.5 1262.2,192.5 1262.2,188.5 1264.4,188.5 1264.4,190.8 1266.6,190.8 1266.6,189.4 1268.8,189.4 1268.8,188.4 1271.0,188.4 1271.0,188.0 1273.2,188.0 1273.2,191.4 1275.4,191.4 1275.4,188.7 1277.6,188.7 1277.6,187.1 1279.8,187.1 1279.8,186.8 1282.0,186.8 1282.0,190.4 1284.2,190.4 1284.2,187.2 1286.4,187.2 1286.4,189.5 1288.6,189.5 1288.6,189.9 1290.8,189.9 1290.8,185.0 1293.0,185.0 1293.0,189.8 1295.2,189.8 1295.2,187.7 1297.4,187.7 1297.4,186.6 1299.6,186.6 1299.6,187.3 1301.8,187.3 1301.8,188.6 1304.0,188.6 1304.0,188.3 1306.2,188.3 1306.2,188.2 1308.4,188.2 1308.4,186.6 1310.6,186.6 1310.6,189.1 1312.8,189.1 1312.8,189.3 1315.0,189.3 1315.0,189.6 1317.2,189.6 1317.2,188.4 1319.4,188.4 1319.4,189.5 1321.6,189.5 1321.6,189.8 1323.8,189.8 1323.8,188.2 1326.0,188.2 1326.0,188.5 1328.2,188.5 1328.2,188.3 1330.4,188.3 1330.4,188.4 1332.6,188.4 1332.6,188.9 1334.8,188.9 1334.8,185.7 1337.0,185.7 1337.0,187.7 1339.2,187.7 1339.2,189.1 1341.4,189.1 1341.4,186.1 1343.6,186.1 1343.6,189.0 1345.8,189.0 1345.8,196.9 1348.0,196.9 1348.0,197.5 1350.2,197.5 1350.2,205.4 1352.4,205.4 1352.4,224.2 1354.6,224.2 1354.6,238.2 1356.8,238.2 1356.8,251.0 1359.0,251.0 1359.0,266.0 1361.2,266.0 1361.2,286.5 1363.4,286.5 1363.4,306.7 1365.6,306.7 1365.6,330.4 1367.8,330.4 1367.8,356.0 1370.0,356.0 1370.0,376.9 1372.2,376.9 1372.2,399.0 1374.4,399.0 1374.4,418.2 1376.6,418.2 1376.6,429.7 1378.8,429.7 1378.8,439.2 1381.0,439.2 1381.0,448.0 1383.2,448.0 1383.2,454.1 1385.4,454.1 1385.4,456.5 1387.6,456.5 1387.6,457.1 1389.8,457.1 1389.8,461.2 1392.0,461.2 1392.0,462.4 1394.2,462.4 1394.2,463.4 1396.4,463.4 1396.4,463.4 1398.6,463.4" fill="none" stroke="#0000dd" stroke-width="2.4" transform="translate(-0.7,-0.5)"/>
<path d="M1216.0,465.6 1218.2,465.6 1218.2,465.2 1220.4,465.2 1220.4,462.6 1222.6,462.6 1222.6,449.5 1224.8,449.5 1224.8,429.5 1227.0,429.5 1227.0,404.3 1229.2,404.3 1229.2,376.3 1231.4,376.3 1231.4,327.0 1233.6,327.0 1233.6,289.8 1235.8,289.8 1235.8,256.9 1238.0,256.9 1238.0,224.0 1240.2,224.0 1240.2,200.8 1242.4,200.8 1242.4,192.9 1244.6,192.9 1244.6,195.8 1246.8,195.8 1246.8,195.5 1249.0,195.5 1249.0,199.0 1251.2,199.0 1251.2,201.6 1253.4,201.6 1253.4,199.7 1255.6,199.7 1255.6,196.3 1257.8,196.3 1257.8,194.6 1260.0,194.6 1260.0,192.0 1262.2,192.0 1262.2,189.8 1264.4,189.8 1264.4,189.2 1266.6,189.2 1266.6,189.6 1268.8,189.6 1268.8,187.9 1271.0,187.9 1271.0,189.1 1273.2,189.1 1273.2,190.1 1275.4,190.1 1275.4,187.8 1277.6,187.8 1277.6,188.2 1279.8,188.2 1279.8,190.8 1282.0,190.8 1282.0,187.0 1284.2,187.0 1284.2,186.4 1286.4,186.4 1286.4,187.6 1288.6,187.6 1288.6,189.8 1290.8,189.8 1290.8,190.0 1293.0,190.0 1293.0,186.8 1295.2,186.8 1295.2,188.6 1297.4,188.6 1297.4,188.0 1299.6,188.0 1299.6,187.4 1301.8,187.4 1301.8,186.0 1304.0,186.0 1304.0,188.8 1306.2,188.8 1306.2,186.8 1308.4,186.8 1308.4,187.9 1310.6,187.9 1310.6,187.6 1312.8,187.6 1312.8,189.2 1315.0,189.2 1315.0,188.4 1317.2,188.4 1317.2,186.0 1319.4,186.0 1319.4,186.8 1321.6,186.8 1321.6,188.1 1323.8,188.1 1323.8,185.9 1326.0,185.9 1326.0,187.0 1328.2,187.0 1328.2,187.7 1330.4,187.7 1330.4,186.0 1332.6,186.0 1332.6,186.6 1334.8,186.6 1334.8,186.2 1337.0,186.2 1337.0,188.4 1339.2,188.4 1339.2,187.9 1341.4,187.9 1341.4,189.7 1343.6,189.7 1343.6,190.9 1345.8,190.9 1345.8,195.4 1348.0,195.4 1348.0,198.8 1350.2,198.8 1350.2,206.8 1352.4,206.8 1352.4,223.6 1354.6,223.6 1354.6,237.9 1356.8,237.9 1356.8,253.3 1359.0,253.3 1359.0,267.7 1361.2,267.7 1361.2,289.3 1363.4,289.3 1363.4,307.3 1365.6,307.3 1365.6,329.6 1367.8,329.6 1367.8,352.4 1370.0,352.4 1370.0,372.6 1372.2,372.6 1372.2,395.5 1374.4,395.5 1374.4,417.7 1376.6,417.7 1376.6,427.7 1378.8,427.7 1378.8,435.9 1381.0,435.9 1381.0,449.0 1383.2,449.0 1383.2,453.0 1385.4,453.0 1385.4,455.7 1387.6,455.7 1387.6,458.1 1389.8,458.1 1389.8,460.1 1392.0,460.1 1392.0,462.1 1394.2,462.1 1394.2,461.2 1396.4,461.2 1396.4,463.9 1398.6,463.9" fill="none" stroke="#ee0000" stroke-width="2.0"/>
<line x1="1083" y1="465" x2="1866" y2="465" stroke="#ff0000" stroke-width="4.6"/>
<path d="M1527.4,465.7 1529.6,465.7 1529.6,469.8 1531.8,469.8 1531.8,473.6 1534.0,473.6 1534.0,476.0 1536.2,476.0 1536.2,483.6 1538.4,483.6 1538.4,494.5 1540.6,494.5 1540.6,507.6 1542.8,507.6 1542.8,530.0 1545.0,530.0 1545.0,555.6 1547.2,555.6 1547.2,579.3 1549.4,579.3 1549.4,603.2 1551.6,603.2 1551.6,632.3 1553.8,632.3 1553.8,655.2 1556.0,655.2 1556.0,666.0 1558.2,666.0 1558.2,677.5 1560.4,677.5 1560.4,689.2 1562.6,689.2 1562.6,684.8 1564.8,684.8 1564.8,675.6 1567.0,675.6 1567.0,664.8 1569.2,664.8 1569.2,663.8 1571.4,663.8 1571.4,666.9 1573.6,666.9 1573.6,670.5 1575.8,670.5 1575.8,673.8 1578.0,673.8 1578.0,675.3 1580.2,675.3 1580.2,677.3 1582.4,677.3 1582.4,677.6 1584.6,677.6 1584.6,678.8 1586.8,678.8 1586.8,678.4 1589.0,678.4 1589.0,677.3 1591.2,677.3 1591.2,675.2 1593.4,675.2 1593.4,673.2 1595.6,673.2 1595.6,672.6 1597.8,672.6 1597.8,671.9 1600.0,671.9 1600.0,672.2 1602.2,672.2 1602.2,673.9 1604.4,673.9 1604.4,674.4 1606.6,674.4 1606.6,676.0 1608.8,676.0 1608.8,676.9 1611.0,676.9 1611.0,677.9 1613.2,677.9 1613.2,675.2 1615.4,675.2 1615.4,674.9 1617.6,674.9 1617.6,676.1 1619.8,676.1 1619.8,676.5 1622.0,676.5 1622.0,675.8 1624.2,675.8 1624.2,676.5 1626.4,676.5 1626.4,675.5 1628.6,675.5 1628.6,675.5 1630.8,675.5 1630.8,676.0 1633.0,676.0 1633.0,677.2 1635.2,677.2 1635.2,677.2 1637.4,677.2 1637.4,676.4 1639.6,676.4 1639.6,677.1 1641.8,677.1 1641.8,676.4 1644.0,676.4 1644.0,676.7 1646.2,676.7 1646.2,675.7 1648.4,675.7 1648.4,676.2 1650.6,676.2 1650.6,675.5 1652.8,675.5 1652.8,674.7 1655.0,674.7 1655.0,672.7 1657.2,672.7 1657.2,671.1 1659.4,671.1 1659.4,670.2 1661.6,670.2 1661.6,667.4 1663.8,667.4 1663.8,662.5 1666.0,662.5 1666.0,657.0 1668.2,657.0 1668.2,649.4 1670.4,649.4 1670.4,637.4 1672.6,637.4 1672.6,626.0 1674.8,626.0 1674.8,609.9 1677.0,609.9 1677.0,592.1 1679.2,592.1 1679.2,576.4 1681.4,576.4 1681.4,557.8 1683.6,557.8 1683.6,536.9 1685.8,536.9 1685.8,519.0 1688.0,519.0 1688.0,502.9 1690.2,502.9 1690.2,492.9 1692.4,492.9 1692.4,483.2 1694.6,483.2 1694.6,475.2 1696.8,475.2 1696.8,469.7 1699.0,469.7" fill="none" stroke="#000" stroke-width="2.0"/>
<path d="M1527.4,466.5 1529.6,466.5 1529.6,470.0 1531.8,470.0 1531.8,473.1 1534.0,473.1 1534.0,477.1 1536.2,477.1 1536.2,482.8 1538.4,482.8 1538.4,493.4 1540.6,493.4 1540.6,507.9 1542.8,507.9 1542.8,530.0 1545.0,530.0 1545.0,553.8 1547.2,553.8 1547.2,579.5 1549.4,579.5 1549.4,601.7 1551.6,601.7 1551.6,630.6 1553.8,630.6 1553.8,654.7 1556.0,654.7 1556.0,665.2 1558.2,665.2 1558.2,676.4 1560.4,676.4 1560.4,681.4 1562.6,681.4 1562.6,673.3 1564.8,673.3 1564.8,661.3 1567.0,661.3 1567.0,654.3 1569.2,654.3 1569.2,652.0 1571.4,652.0 1571.4,652.8 1573.6,652.8 1573.6,652.4 1575.8,652.4 1575.8,653.5 1578.0,653.5 1578.0,655.8 1580.2,655.8 1580.2,662.3 1582.4,662.3 1582.4,667.1 1584.6,667.1 1584.6,671.2 1586.8,671.2 1586.8,671.0 1589.0,671.0 1589.0,668.4 1591.2,668.4 1591.2,665.6 1593.4,665.6 1593.4,665.3 1595.6,665.3 1595.6,662.7 1597.8,662.7 1597.8,661.0 1600.0,661.0 1600.0,658.9 1602.2,658.9 1602.2,661.2 1604.4,661.2 1604.4,663.2 1606.6,663.2 1606.6,661.7 1608.8,661.7 1608.8,661.7 1611.0,661.7 1611.0,661.9 1613.2,661.9 1613.2,662.5 1615.4,662.5 1615.4,661.1 1617.6,661.1 1617.6,659.9 1619.8,659.9 1619.8,659.4 1622.0,659.4 1622.0,660.1 1624.2,660.1 1624.2,658.8 1626.4,658.8 1626.4,658.5 1628.6,658.5 1628.6,659.3 1630.8,659.3 1630.8,657.9 1633.0,657.9 1633.0,657.2 1635.2,657.2 1635.2,656.6 1637.4,656.6 1637.4,657.2 1639.6,657.2 1639.6,656.7 1641.8,656.7 1641.8,655.3 1644.0,655.3 1644.0,654.6 1646.2,654.6 1646.2,654.9 1648.4,654.9 1648.4,655.2 1650.6,655.2 1650.6,654.4 1652.8,654.4 1652.8,652.2 1655.0,652.2 1655.0,651.0 1657.2,651.0 1657.2,649.4 1659.4,649.4 1659.4,647.3 1661.6,647.3 1661.6,644.3 1663.8,644.3 1663.8,637.8 1666.0,637.8 1666.0,631.1 1668.2,631.1 1668.2,623.5 1670.4,623.5 1670.4,613.4 1672.6,613.4 1672.6,603.6 1674.8,603.6 1674.8,592.2 1677.0,592.2 1677.0,579.7 1679.2,579.7 1679.2,563.8 1681.4,563.8 1681.4,539.6 1683.6,539.6 1683.6,523.5 1685.8,523.5 1685.8,510.1 1688.0,510.1 1688.0,497.4 1690.2,497.4 1690.2,486.4 1692.4,486.4 1692.4,477.2 1694.6,477.2 1694.6,472.8 1696.8,472.8 1696.8,467.4 1699.0,467.4" fill="none" stroke="#0000dd" stroke-width="2.4" transform="translate(0,1.5)"/>
<path d="M1527.4,466.2 1529.6,466.2 1529.6,469.3 1531.8,469.3 1531.8,473.4 1534.0,473.4 1534.0,476.7 1536.2,476.7 1536.2,482.3 1538.4,482.3 1538.4,494.8 1540.6,494.8 1540.6,507.0 1542.8,507.0 1542.8,530.1 1545.0,530.1 1545.0,555.7 1547.2,555.7 1547.2,580.1 1549.4,580.1 1549.4,601.5 1551.6,601.5 1551.6,630.1 1553.8,630.1 1553.8,654.5 1556.0,654.5 1556.0,664.3 1558.2,664.3 1558.2,676.7 1560.4,676.7 1560.4,681.4 1562.6,681.4 1562.6,672.8 1564.8,672.8 1564.8,661.3 1567.0,661.3 1567.0,654.9 1569.2,654.9 1569.2,652.2 1571.4,652.2 1571.4,651.9 1573.6,651.9 1573.6,652.9 1575.8,652.9 1575.8,652.8 1578.0,652.8 1578.0,655.6 1580.2,655.6 1580.2,663.1 1582.4,663.1 1582.4,667.3 1584.6,667.3 1584.6,670.2 1586.8,670.2 1586.8,670.4 1589.0,670.4 1589.0,669.1 1591.2,669.1 1591.2,665.1 1593.4,665.1 1593.4,664.3 1595.6,664.3 1595.6,662.6 1597.8,662.6 1597.8,660.5 1600.0,660.5 1600.0,659.5 1602.2,659.5 1602.2,660.9 1604.4,660.9 1604.4,663.7 1606.6,663.7 1606.6,663.4 1608.8,663.4 1608.8,661.7 1611.0,661.7 1611.0,661.6 1613.2,661.6 1613.2,661.4 1615.4,661.4 1615.4,660.6 1617.6,660.6 1617.6,660.6 1619.8,660.6 1619.8,659.5 1622.0,659.5 1622.0,659.9 1624.2,659.9 1624.2,659.0 1626.4,659.0 1626.4,658.7 1628.6,658.7 1628.6,658.5 1630.8,658.5 1630.8,658.3 1633.0,658.3 1633.0,656.9 1635.2,656.9 1635.2,657.4 1637.4,657.4 1637.4,657.0 1639.6,657.0 1639.6,656.0 1641.8,656.0 1641.8,656.5 1644.0,656.5 1644.0,654.9 1646.2,654.9 1646.2,654.6 1648.4,654.6 1648.4,654.7 1650.6,654.7 1650.6,653.8 1652.8,653.8 1652.8,653.5 1655.0,653.5 1655.0,651.0 1657.2,651.0 1657.2,649.9 1659.4,649.9 1659.4,646.8 1661.6,646.8 1661.6,643.8 1663.8,643.8 1663.8,638.5 1666.0,638.5 1666.0,630.9 1668.2,630.9 1668.2,624.4 1670.4,624.4 1670.4,613.7 1672.6,613.7 1672.6,604.4 1674.8,604.4 1674.8,593.6 1677.0,593.6 1677.0,579.5 1679.2,579.5 1679.2,563.0 1681.4,563.0 1681.4,539.3 1683.6,539.3 1683.6,523.9 1685.8,523.9 1685.8,510.1 1688.0,510.1 1688.0,498.1 1690.2,498.1 1690.2,486.3 1692.4,486.3 1692.4,477.5 1694.6,477.5 1694.6,472.8 1696.8,472.8 1696.8,467.9 1699.0,467.9" fill="none" stroke="#ee0000" stroke-width="2.0"/>
<path d="M1540.0,464.4 1544.0,464.4 1544.0,465.7 1548.0,465.7 1548.0,465.5 1552.0,465.5 1552.0,465.9 1556.0,465.9 1556.0,464.3 1560.0,464.3 1560.0,466.5 1564.0,466.5 1564.0,465.5 1568.0,465.5 1568.0,464.4 1572.0,464.4 1572.0,464.2 1576.0,464.2 1576.0,464.3 1580.0,464.3 1580.0,464.8 1584.0,464.8 1584.0,466.5 1588.0,466.5 1588.0,466.2 1592.0,466.2 1592.0,464.9 1596.0,464.9 1596.0,464.9 1600.0,464.9 1600.0,467.1 1604.0,467.1 1604.0,466.2 1608.0,466.2 1608.0,464.7 1612.0,464.7 1612.0,465.3 1616.0,465.3 1616.0,465.0 1620.0,465.0 1620.0,465.5 1624.0,465.5 1624.0,466.2 1628.0,466.2 1628.0,465.1 1632.0,465.1 1632.0,465.7 1636.0,465.7 1636.0,465.9 1640.0,465.9 1640.0,466.1 1644.0,466.1 1644.0,464.8 1648.0,464.8 1648.0,465.1 1652.0,465.1 1652.0,467.1 1656.0,467.1 1656.0,465.2 1660.0,465.2 1660.0,465.3 1664.0,465.3 1664.0,465.7 1668.0,465.7 1668.0,464.8 1672.0,464.8 1672.0,464.9 1676.0,464.9 1676.0,466.8 1680.0,466.8 1680.0,466.5 1684.0,466.5 1684.0,464.3 1688.0,464.3 1688.0,465.3 1692.0,465.3 1692.0,464.1 1696.0,464.1 1696.0,463.9 1700.0,463.9 1700.0,465.3 1704.0,465.3 1704.0,466.6 1708.0,466.6 1708.0,465.2 1712.0,465.2 1712.0,466.6 1716.0,466.6 1716.0,464.3 1720.0,464.3 1720.0,465.3 1724.0,465.3 1724.0,465.3 1728.0,465.3 1728.0,465.3 1732.0,465.3 1732.0,466.1 1736.0,466.1 1736.0,465.7 1740.0,465.7 1740.0,464.7 1744.0,464.7 1744.0,464.0 1748.0,464.0 1748.0,464.7 1752.0,464.7 1752.0,465.2 1756.0,465.2 1756.0,464.7 1760.0,464.7 1760.0,463.8 1764.0,463.8 1764.0,463.6 1768.0,463.6 1768.0,465.9 1772.0,465.9 1772.0,465.4 1776.0,465.4 1776.0,464.6 1780.0,464.6 1780.0,465.5 1784.0,465.5 1784.0,465.6 1788.0,465.6 1788.0,464.9 1792.0,464.9 1792.0,464.7 1796.0,464.7 1796.0,466.1 1800.0,466.1 1800.0,465.9 1804.0,465.9 1804.0,466.4 1808.0,466.4 1808.0,466.0 1812.0,466.0 1812.0,465.3 1816.0,465.3 1816.0,464.7 1820.0,464.7 1820.0,464.8 1824.0,464.8 1824.0,464.5 1828.0,464.5 1828.0,465.1 1832.0,465.1 1832.0,465.2 1836.0,465.2 1836.0,466.1 1840.0,466.1 1840.0,466.3 1844.0,466.3 1844.0,465.0 1848.0,465.0 1848.0,465.4 1852.0,465.4 1852.0,464.0 1856.0,464.0 1856.0,464.4 1860.0,464.4 1860.0,464.0 1864.0,464.0 1864.0,465.1 1868.0,465.1" fill="none" stroke="#000" stroke-width="3.6"/>
<path d="M1520.0,465.3 1523.6,465.3 1523.6,463.6 1527.2,463.6 1527.2,465.1 1530.8,465.1 1530.8,464.9 1534.4,464.9 1534.4,461.7 1538.0,461.7 1538.0,462.0 1541.6,462.0 1541.6,463.1 1545.2,463.1 1545.2,461.9 1548.8,461.9 1548.8,461.4 1552.4,461.4 1552.4,459.7 1556.0,459.7 1556.0,460.7 1559.6,460.7 1559.6,459.8 1563.2,459.8 1563.2,458.2 1566.8,458.2 1566.8,458.4 1570.4,458.4 1570.4,456.8 1574.0,456.8 1574.0,454.6 1577.6,454.6 1577.6,449.9 1581.2,449.9 1581.2,442.6 1584.8,442.6 1584.8,440.0 1588.4,440.0 1588.4,434.6 1592.0,434.6 1592.0,433.9 1595.6,433.9 1595.6,432.9 1599.2,432.9 1599.2,434.3 1602.8,434.3 1602.8,430.1 1606.4,430.1 1606.4,424.8 1610.0,424.8 1610.0,419.8 1613.6,419.8 1613.6,420.3 1617.2,420.3 1617.2,419.7 1620.8,419.7 1620.8,419.3 1624.4,419.3 1624.4,418.8 1628.0,418.8 1628.0,412.1 1631.6,412.1 1631.6,405.4 1635.2,405.4 1635.2,405.3 1638.8,405.3 1638.8,405.0 1642.4,405.0 1642.4,406.4 1646.0,406.4 1646.0,403.7 1649.6,403.7 1649.6,396.0 1653.2,396.0 1653.2,388.8 1656.8,388.8 1656.8,388.3 1660.4,388.3 1660.4,389.2 1664.0,389.2 1664.0,388.8 1667.6,388.8 1667.6,386.8 1671.2,386.8 1671.2,382.4 1674.8,382.4 1674.8,386.2 1678.4,386.2 1678.4,395.1 1682.0,395.1 1682.0,398.8 1685.6,398.8 1685.6,403.1 1689.2,403.1 1689.2,406.0 1692.8,406.0 1692.8,412.2 1696.4,412.2 1696.4,417.4 1700.0,417.4 1700.0,421.3 1703.6,421.3 1703.6,423.1 1707.2,423.1 1707.2,422.6 1710.8,422.6 1710.8,425.3 1714.4,425.3 1714.4,429.3 1718.0,429.3 1718.0,433.4 1721.6,433.4 1721.6,437.9 1725.2,437.9 1725.2,443.3 1728.8,443.3 1728.8,444.5 1732.4,444.5 1732.4,448.4 1736.0,448.4 1736.0,446.3 1739.6,446.3 1739.6,448.2 1743.2,448.2 1743.2,449.3 1746.8,449.3 1746.8,450.3 1750.4,450.3 1750.4,451.0 1754.0,451.0 1754.0,451.6 1757.6,451.6 1757.6,450.8 1761.2,450.8 1761.2,451.1 1764.8,451.1 1764.8,452.7 1768.4,452.7 1768.4,452.0 1772.0,452.0 1772.0,451.3 1775.6,451.3 1775.6,451.8 1779.2,451.8 1779.2,452.4 1782.8,452.4 1782.8,454.2 1786.4,454.2 1786.4,454.2 1790.0,454.2 1790.0,455.1 1793.6,455.1 1793.6,454.3 1797.2,454.3 1797.2,455.3 1800.8,455.3 1800.8,456.1 1804.4,456.1 1804.4,455.5 1808.0,455.5 1808.0,456.7 1811.6,456.7 1811.6,455.9 1815.2,455.9 1815.2,456.6 1818.8,456.6 1818.8,456.9 1822.4,456.9 1822.4,456.4 1826.0,456.4 1826.0,458.5 1829.6,458.5 1829.6,458.0 1833.2,458.0 1833.2,459.0 1836.8,459.0 1836.8,459.9 1840.4,459.9 1840.4,460.4 1844.0,460.4 1844.0,461.1 1847.6,461.1 1847.6,460.8 1851.2,460.8 1851.2,461.0 1854.8,461.0 1854.8,461.8 1858.4,461.8 1858.4,460.7 1862.0,460.7 1862.0,461.4 1865.6,461.4 1865.6,462.0 1869.2,462.0" fill="none" stroke="#0000dd" stroke-width="4.2"/>
<path d="M1520.0,465.2 1523.6,465.2 1523.6,465.3 1527.2,465.3 1527.2,463.6 1530.8,463.6 1530.8,462.8 1534.4,462.8 1534.4,461.3 1538.0,461.3 1538.0,463.9 1541.6,463.9 1541.6,462.5 1545.2,462.5 1545.2,461.8 1548.8,461.8 1548.8,459.9 1552.4,459.9 1552.4,461.0 1556.0,461.0 1556.0,459.8 1559.6,459.8 1559.6,457.9 1563.2,457.9 1563.2,456.5 1566.8,456.5 1566.8,455.8 1570.4,455.8 1570.4,454.5 1574.0,454.5 1574.0,454.4 1577.6,454.4 1577.6,446.6 1581.2,446.6 1581.2,440.0 1584.8,440.0 1584.8,430.6 1588.4,430.6 1588.4,428.8 1592.0,428.8 1592.0,428.9 1595.6,428.9 1595.6,424.9 1599.2,424.9 1599.2,419.7 1602.8,419.7 1602.8,417.3 1606.4,417.3 1606.4,409.7 1610.0,409.7 1610.0,406.1 1613.6,406.1 1613.6,406.3 1617.2,406.3 1617.2,405.0 1620.8,405.0 1620.8,404.5 1624.4,404.5 1624.4,401.9 1628.0,401.9 1628.0,396.2 1631.6,396.2 1631.6,391.4 1635.2,391.4 1635.2,389.0 1638.8,389.0 1638.8,391.3 1642.4,391.3 1642.4,387.4 1646.0,387.4 1646.0,386.1 1649.6,386.1 1649.6,380.1 1653.2,380.1 1653.2,376.1 1656.8,376.1 1656.8,375.2 1660.4,375.2 1660.4,374.1 1664.0,374.1 1664.0,372.2 1667.6,372.2 1667.6,369.9 1671.2,369.9 1671.2,369.7 1674.8,369.7 1674.8,368.0 1678.4,368.0 1678.4,369.5 1682.0,369.5 1682.0,376.0 1685.6,376.0 1685.6,380.8 1689.2,380.8 1689.2,386.5 1692.8,386.5 1692.8,392.0 1696.4,392.0 1696.4,396.2 1700.0,396.2 1700.0,401.7 1703.6,401.7 1703.6,405.2 1707.2,405.2 1707.2,406.4 1710.8,406.4 1710.8,409.7 1714.4,409.7 1714.4,417.4 1718.0,417.4 1718.0,424.4 1721.6,424.4 1721.6,431.4 1725.2,431.4 1725.2,433.9 1728.8,433.9 1728.8,440.2 1732.4,440.2 1732.4,441.1 1736.0,441.1 1736.0,443.4 1739.6,443.4 1739.6,442.1 1743.2,442.1 1743.2,443.8 1746.8,443.8 1746.8,445.3 1750.4,445.3 1750.4,446.0 1754.0,446.0 1754.0,447.0 1757.6,447.0 1757.6,446.9 1761.2,446.9 1761.2,447.0 1764.8,447.0 1764.8,448.4 1768.4,448.4 1768.4,449.8 1772.0,449.8 1772.0,446.7 1775.6,446.7 1775.6,448.5 1779.2,448.5 1779.2,449.6 1782.8,449.6 1782.8,449.3 1786.4,449.3 1786.4,451.0 1790.0,451.0 1790.0,449.6 1793.6,449.6 1793.6,449.2 1797.2,449.2 1797.2,451.5 1800.8,451.5 1800.8,448.2 1804.4,448.2 1804.4,450.9 1808.0,450.9 1808.0,454.1 1811.6,454.1 1811.6,452.0 1815.2,452.0 1815.2,452.7 1818.8,452.7 1818.8,451.6 1822.4,451.6 1822.4,452.9 1826.0,452.9 1826.0,453.1 1829.6,453.1 1829.6,455.4 1833.2,455.4 1833.2,452.8 1836.8,452.8 1836.8,451.3 1840.4,451.3 1840.4,454.8 1844.0,454.8 1844.0,456.7 1847.6,456.7 1847.6,455.2 1851.2,455.2 1851.2,454.9 1854.8,454.9 1854.8,456.4 1858.4,456.4 1858.4,458.6 1862.0,458.6 1862.0,458.4 1865.6,458.4 1865.6,459.8 1869.2,459.8" fill="none" stroke="#ff0000" stroke-width="4.4"/>
<path d="M1849.0,465.0 1850.2,453.7 1852.9,422.0 1856.9,419.3 1859.5,363.7 1864.8,358.4 1865.6,316.0 1866.0,276.0" fill="none" stroke="#000" stroke-width="2"/>
<path d="M1849.0,465.0 1850.2,453.7 1852.9,422.0 1856.9,419.3 1859.5,363.7 1864.8,358.4 1865.6,316.0 1866.0,276.0" fill="none" stroke="#ee0000" stroke-width="1.4" stroke-dasharray="3 3"/>
<text x="94.3" y="781.9" font-size="26.8" text-anchor="end" fill="#1a1a1a" font-weight="normal" >0</text>
<text x="94.3" y="693.3" font-size="26.8" text-anchor="end" fill="#1a1a1a" font-weight="normal" >50</text>
<text x="94.3" y="604.8" font-size="26.8" text-anchor="end" fill="#1a1a1a" font-weight="normal" >100</text>
<text x="94.3" y="516.2" font-size="26.8" text-anchor="end" fill="#1a1a1a" font-weight="normal" >150</text>
<text x="94.3" y="427.6" font-size="26.8" text-anchor="end" fill="#1a1a1a" font-weight="normal" >200</text>
<text x="94.3" y="339.0" font-size="26.8" text-anchor="end" fill="#1a1a1a" font-weight="normal" >250</text>
<text x="94.3" y="250.5" font-size="26.8" text-anchor="end" fill="#1a1a1a" font-weight="normal" >300</text>
<text x="94.3" y="161.9" font-size="26.8" text-anchor="end" fill="#1a1a1a" font-weight="normal" >350</text>
<text x="65.9" y="812.3" font-size="26.8" text-anchor="start" fill="#1a1a1a" font-weight="normal" textLength="95.5" lengthAdjust="spacingAndGlyphs" >-0.0002</text>
<text x="233.3" y="812.3" font-size="26.8" text-anchor="middle" fill="#1a1a1a" font-weight="normal" >0</text>
<text x="311.1" y="812.3" font-size="26.8" text-anchor="start" fill="#1a1a1a" font-weight="normal" textLength="83.7" lengthAdjust="spacingAndGlyphs" >0.0002</text>
<text x="430.7" y="812.3" font-size="26.8" text-anchor="start" fill="#1a1a1a" font-weight="normal" textLength="83.7" lengthAdjust="spacingAndGlyphs" >0.0004</text>
<text x="550.3" y="812.3" font-size="26.8" text-anchor="start" fill="#1a1a1a" font-weight="normal" textLength="83.7" lengthAdjust="spacingAndGlyphs" >0.0006</text>
<text x="670.0" y="812.3" font-size="26.8" text-anchor="start" fill="#1a1a1a" font-weight="normal" textLength="83.7" lengthAdjust="spacingAndGlyphs" >0.0008</text>
<text x="799.6" y="812.3" font-size="26.8" text-anchor="start" fill="#1a1a1a" font-weight="normal" textLength="63.7" lengthAdjust="spacingAndGlyphs" >0.001</text>
<text y="166.8" font-size="28" fill="#1a1a1a" text-anchor="end" x="1013.5">6</text>
<text y="166.8" font-size="28" fill="#1a1a1a" x="1021">10</text>
<text y="150.4" font-size="14.5" fill="#6a5030" x="1051.8">4</text>
<text y="269.1" font-size="28" fill="#1a1a1a" text-anchor="end" x="1013.5">4</text>
<text y="269.1" font-size="28" fill="#1a1a1a" x="1021">10</text>
<text y="252.7" font-size="14.5" fill="#6a5030" x="1051.8">4</text>
<text y="371.3" font-size="28" fill="#1a1a1a" text-anchor="end" x="1013.5">2</text>
<text y="371.3" font-size="28" fill="#1a1a1a" x="1021">10</text>
<text y="354.9" font-size="14.5" fill="#6a5030" x="1051.8">4</text>
<text x="1060.4" y="473.6" font-size="28" text-anchor="end" fill="#1a1a1a" font-weight="normal" >0</text>
<text y="575.8" font-size="28" fill="#1a1a1a" text-anchor="end" x="1013.5">-2</text>
<text y="575.8" font-size="28" fill="#1a1a1a" x="1021">10</text>
<text y="559.4" font-size="14.5" fill="#6a5030" x="1051.8">4</text>
<text y="678.0" font-size="28" fill="#1a1a1a" text-anchor="end" x="1013.5">-4</text>
<text y="678.0" font-size="28" fill="#1a1a1a" x="1021">10</text>
<text y="661.6" font-size="14.5" fill="#6a5030" x="1051.8">4</text>
<text y="780.3" font-size="28" fill="#1a1a1a" text-anchor="end" x="1013.5">-6</text>
<text y="780.3" font-size="28" fill="#1a1a1a" x="1021">10</text>
<text y="763.9" font-size="14.5" fill="#6a5030" x="1051.8">4</text>
<text x="1886.8" y="779.2" font-size="27.8" text-anchor="start" fill="#ff1010" font-weight="normal" >-800</text>
<text x="1886.8" y="702.5" font-size="27.8" text-anchor="start" fill="#ff1010" font-weight="normal" >-600</text>
<text x="1886.8" y="625.8" font-size="27.8" text-anchor="start" fill="#ff1010" font-weight="normal" >-400</text>
<text x="1886.8" y="549.1" font-size="27.8" text-anchor="start" fill="#ff1010" font-weight="normal" >-200</text>
<text x="1886.8" y="472.4" font-size="27.8" text-anchor="start" fill="#ff1010" font-weight="normal" >0</text>
<text x="1886.8" y="395.8" font-size="27.8" text-anchor="start" fill="#ff1010" font-weight="normal" >200</text>
<text x="1886.8" y="319.1" font-size="27.8" text-anchor="start" fill="#ff1010" font-weight="normal" >400</text>
<text x="1886.8" y="242.4" font-size="27.8" text-anchor="start" fill="#ff1010" font-weight="normal" >600</text>
<text x="1886.8" y="165.7" font-size="27.8" text-anchor="start" fill="#ff1010" font-weight="normal" >800</text>
<text x="1067.6" y="818.2" font-size="28" fill="#1a1a1a" text-anchor="end">-5</text>
<text x="1074.8" y="818.2" font-size="28" fill="#1a1a1a">10</text>
<text x="1106.6" y="802.6" font-size="18" fill="#3a3a3a">-5</text>
<text x="1238.6" y="818.2" font-size="28" text-anchor="middle" fill="#1a1a1a" font-weight="normal" >0</text>
<text x="1378" y="818.2" font-size="28" fill="#1a1a1a" text-anchor="end">5</text>
<text x="1383.5" y="818.2" font-size="28" fill="#1a1a1a">10</text>
<text x="1417" y="802.6" font-size="18" fill="#3a3a3a">-5</text>
<text x="1509" y="818.2" font-size="28" text-anchor="start" fill="#1a1a1a" font-weight="normal" textLength="84" lengthAdjust="spacingAndGlyphs" >0.0001</text>
<text x="1660.7" y="818.2" font-size="28" text-anchor="start" fill="#1a1a1a" font-weight="normal" textLength="101" lengthAdjust="spacingAndGlyphs" >0.00015</text>
<text x="1823.7" y="818.2" font-size="28" text-anchor="start" fill="#1a1a1a" font-weight="normal" textLength="85" lengthAdjust="spacingAndGlyphs" >0.0002</text>
<text transform="translate(25.1,594.6) rotate(-90)" font-size="32" textLength="338.2" lengthAdjust="spacingAndGlyphs">Transmitted power (W)</text>
<text transform="translate(962.7,560) rotate(-90)" font-size="32" textLength="266" lengthAdjust="spacingAndGlyphs">Impact power (W)</text>
<text transform="translate(1975,281.6) rotate(90)" font-size="32" textLength="338" lengthAdjust="spacingAndGlyphs">Transmitted power (W)</text>
<text x="370.4" y="862.8" font-size="31.5" text-anchor="start" fill="#000" font-weight="normal" textLength="117.6" lengthAdjust="spacingAndGlyphs" >Time (s)</text>
<text x="1457" y="861.6" font-size="31.5" text-anchor="start" fill="#000" font-weight="normal" textLength="117.6" lengthAdjust="spacingAndGlyphs" >Time (s)</text>
<text x="2" y="857" font-size="39" text-anchor="start" fill="#000" font-weight="bold" textLength="46.2" lengthAdjust="spacingAndGlyphs" >(a)</text>
<text x="962" y="839" font-size="39" text-anchor="start" fill="#000" font-weight="bold" textLength="48.6" lengthAdjust="spacingAndGlyphs" >(b)</text>
<text x="1131" y="206.8" font-size="29" text-anchor="start" fill="#000" font-weight="normal" textLength="92" lengthAdjust="spacingAndGlyphs" >Impact</text>
<text x="1132.4" y="246.6" font-size="29" text-anchor="start" fill="#000" font-weight="normal" textLength="82.5" lengthAdjust="spacingAndGlyphs" >waves</text>
<text x="1552.8" y="327.8" font-size="29" text-anchor="start" fill="#ff0000" font-weight="normal" textLength="163" lengthAdjust="spacingAndGlyphs" >Transmitted</text>
<text x="1553.3" y="367.2" font-size="29" text-anchor="start" fill="#ff0000" font-weight="normal" textLength="82.7" lengthAdjust="spacingAndGlyphs" >waves</text>
<text x="1683" y="697.5" font-size="29" text-anchor="start" fill="#000" font-weight="normal" textLength="127.6" lengthAdjust="spacingAndGlyphs" >Reflected</text>
<text x="1684" y="737.2" font-size="29" text-anchor="start" fill="#000" font-weight="normal" textLength="83.5" lengthAdjust="spacingAndGlyphs" >waves</text>
<line x1="610.8" y1="514.2" x2="687" y2="514.2" stroke="#000" stroke-width="2.3"/>
<rect x="646.9" y="510.70000000000005" width="4" height="3.5" fill="#000"/>
<text x="710.3" y="522.6" font-size="29" text-anchor="start" fill="#000" font-weight="normal" textLength="81.6" lengthAdjust="spacingAndGlyphs" >PDMS</text>
<line x1="610.8" y1="559.1" x2="687" y2="559.1" stroke="#0000e0" stroke-width="2.3"/>
<rect x="646.9" y="555.6" width="4" height="3.5" fill="#0000e0"/>
<text x="708.6" y="565.2" font-size="29" text-anchor="start" fill="#000" font-weight="normal" textLength="81" lengthAdjust="spacingAndGlyphs" >LCE40</text>
<line x1="610.8" y1="603.7" x2="687" y2="603.7" stroke="#ff0000" stroke-width="2.3"/>
<rect x="646.9" y="600.2" width="4" height="3.5" fill="#ff0000"/>
<text x="709.3" y="609.2" font-size="29" text-anchor="start" fill="#000" font-weight="normal" textLength="80.8" lengthAdjust="spacingAndGlyphs" >LCE10</text>
<line x1="1164.2" y1="623" x2="1239.5" y2="623" stroke="#000" stroke-width="2.3"/>
<rect x="1199.8" y="619.5" width="4" height="3.5" fill="#000"/>
<text x="1262.4" y="631.1" font-size="29" text-anchor="start" fill="#000" font-weight="normal" textLength="81.4" lengthAdjust="spacingAndGlyphs" >PDMS</text>
<line x1="1164.2" y1="667.6" x2="1239.5" y2="667.6" stroke="#0000e0" stroke-width="2.3"/>
<rect x="1199.8" y="664.1" width="4" height="3.5" fill="#0000e0"/>
<text x="1260.6" y="673.4" font-size="29" text-anchor="start" fill="#000" font-weight="normal" textLength="81.2" lengthAdjust="spacingAndGlyphs" >LCE40</text>
<line x1="1164.2" y1="711.6" x2="1239.5" y2="711.6" stroke="#ff0000" stroke-width="2.3"/>
<rect x="1199.8" y="708.1" width="4" height="3.5" fill="#ff0000"/>
<text x="1261.4" y="717.2" font-size="29" text-anchor="start" fill="#000" font-weight="normal" textLength="81.2" lengthAdjust="spacingAndGlyphs" >LCE10</text>
<rect x="367.5" y="140" width="200" height="30" fill="#fff"/>
<rect x="1407.6" y="145" width="185" height="25" fill="#fff"/>
<clipPath id="cpa"><rect x="382" y="0" width="175.5" height="298"/></clipPath>
<g clip-path="url(#cpa)">
<rect x="380" y="0" width="180" height="300" fill="#68aa00"/>
<path d="M 559,58 C 540,46 505,13 471,6 C 455,4 448,22 445,50 C 440,90 433,120 433,149 C 433,178 440,208 445,248 C 448,276 455,294 471,292 C 505,285 540,252 559,240 Z" fill="#96ab00"/>
<path d="M 516.7,0 C 530,14 545,30 559,40 L 559,-2 L 516.7,-2 Z" fill="#28ae00"/>
<path d="M 533,0 C 541,9 549,17 559,24 L 559,-2 L 533,-2 Z" fill="#00a82a"/>
<path d="M 553,0 C 555,2 556.5,3 559,4 L 559,-2 Z" fill="#10b0a0"/>
<path d="M 516.7,298 C 530,284 545,268 559,258 L 559,300 L 516.7,300 Z" fill="#28ae00"/>
<path d="M 533,298 C 541,289 549,281 559,274 L 559,300 L 533,300 Z" fill="#00a82a"/>
<path d="M 553,298 C 555,296 556.5,295 559,294 L 559,300 Z" fill="#10b0a0"/>
<path d="M 559,82 C 540,72 520,66 498,67 C 465,70 447,110 447,149 C 447,188 465,228 498,231 C 520,232 540,226 559,216 Z" fill="#a9a300"/>
<path d="M 559,91 C 540,83 525,79 507,80 C 475,83 455,115 455.5,149 C 455,183 475,215 507,218 C 525,219 540,215 559,207 Z" fill="#b08400"/>
<circle cx="532.3" cy="148.8" r="34.2" fill="#b85400"/>
<circle cx="537.5" cy="148.6" r="25" fill="#c00000"/>
<path d="M 559,128.3 L 537,128.3 C 534,133 534,164 537,169.4 L 559,169.4 Z" fill="#6c0000"/>
<path d="M 559,76 C 557,100 553,118 546,128 C 545,140 545,158 546,170 C 553,180 557,198 559,222 Z" fill="#2a2000" fill-opacity="0.62"/>
<polygon points="370.0,-2.0 428.0,-2.0 428.0,1.0 428.0,4.0 428.0,7.0 428.0,10.0 428.0,13.0 428.0,16.0 428.0,19.0 428.0,22.0 428.0,25.0 428.0,28.0 428.0,31.0 428.0,34.0 428.0,37.0 428.0,40.0 428.0,43.0 428.0,46.0 428.0,49.0 428.0,52.0 428.0,55.0 428.0,58.0 428.0,61.0 428.0,64.0 428.0,67.0 428.0,70.0 428.0,73.0 428.0,76.0 428.0,79.0 428.0,82.0 428.1,85.0 428.1,88.0 428.1,91.0 428.2,94.0 428.2,97.0 428.3,100.0 428.5,103.0 428.6,106.0 428.8,109.0 429.1,112.0 429.4,115.0 429.7,118.0 430.1,121.0 430.5,124.0 430.9,127.0 431.3,130.0 431.8,133.0 432.1,136.0 432.5,139.0 432.7,142.0 432.9,145.0 433.0,148.0 433.0,151.0 432.9,154.0 432.7,157.0 432.4,160.0 432.0,163.0 431.6,166.0 431.2,169.0 430.8,172.0 430.4,175.0 430.0,178.0 429.6,181.0 429.3,184.0 429.0,187.0 428.8,190.0 428.6,193.0 428.4,196.0 428.3,199.0 428.2,202.0 428.2,205.0 428.1,208.0 428.1,211.0 428.0,214.0 428.0,217.0 428.0,220.0 428.0,223.0 428.0,226.0 428.0,229.0 428.0,232.0 428.0,235.0 428.0,238.0 428.0,241.0 428.0,244.0 428.0,247.0 428.0,250.0 428.0,253.0 428.0,256.0 428.0,259.0 428.0,262.0 428.0,265.0 428.0,268.0 428.0,271.0 428.0,274.0 428.0,277.0 428.0,280.0 428.0,283.0 428.0,286.0 428.0,289.0 428.0,292.0 428.0,295.0 428.0,298.0 370.0,300.0" fill="#28ae00"/>
<polygon points="370.0,-2.0 419.5,-2.0 419.5,1.0 419.5,4.0 419.5,7.0 419.5,10.0 419.5,13.0 419.5,16.0 419.5,19.0 419.5,22.0 419.5,25.0 419.5,28.0 419.5,31.0 419.5,34.0 419.5,37.0 419.5,40.0 419.5,43.0 419.5,46.0 419.5,49.0 419.5,52.0 419.5,55.0 419.5,58.0 419.5,61.0 419.5,64.0 419.5,67.0 419.5,70.0 419.5,73.0 419.5,76.0 419.5,79.0 419.5,82.0 419.5,85.0 419.6,88.0 419.6,91.0 419.6,94.0 419.7,97.0 419.8,100.0 419.9,103.0 420.0,106.0 420.2,109.0 420.4,112.0 420.6,115.0 420.9,118.0 421.2,121.0 421.5,124.0 421.8,127.0 422.2,130.0 422.5,133.0 422.8,136.0 423.1,139.0 423.3,142.0 423.4,145.0 423.5,148.0 423.5,151.0 423.4,154.0 423.2,157.0 423.0,160.0 422.7,163.0 422.4,166.0 422.1,169.0 421.7,172.0 421.4,175.0 421.1,178.0 420.8,181.0 420.5,184.0 420.3,187.0 420.1,190.0 420.0,193.0 419.8,196.0 419.7,199.0 419.7,202.0 419.6,205.0 419.6,208.0 419.6,211.0 419.5,214.0 419.5,217.0 419.5,220.0 419.5,223.0 419.5,226.0 419.5,229.0 419.5,232.0 419.5,235.0 419.5,238.0 419.5,241.0 419.5,244.0 419.5,247.0 419.5,250.0 419.5,253.0 419.5,256.0 419.5,259.0 419.5,262.0 419.5,265.0 419.5,268.0 419.5,271.0 419.5,274.0 419.5,277.0 419.5,280.0 419.5,283.0 419.5,286.0 419.5,289.0 419.5,292.0 419.5,295.0 419.5,298.0 370.0,300.0" fill="#10aa40"/>
<polygon points="370.0,-2.0 411.7,-2.0 411.7,1.0 411.7,4.0 411.7,7.0 411.7,10.0 411.7,13.0 411.7,16.0 411.7,19.0 411.7,22.0 411.7,25.0 411.7,28.0 411.7,31.0 411.7,34.0 411.7,37.0 411.7,40.0 411.7,43.0 411.7,46.0 411.7,49.0 411.7,52.0 411.7,55.0 411.7,58.0 411.7,61.0 411.7,64.0 411.7,67.0 411.7,70.0 411.7,73.0 411.7,76.0 411.7,79.0 411.7,82.0 411.8,85.0 411.8,88.0 411.8,91.0 411.9,94.0 411.9,97.0 412.0,100.0 412.2,103.0 412.3,106.0 412.5,109.0 412.8,112.0 413.1,115.0 413.4,118.0 413.8,121.0 414.2,124.0 414.6,127.0 415.0,130.0 415.5,133.0 415.8,136.0 416.2,139.0 416.4,142.0 416.6,145.0 416.7,148.0 416.7,151.0 416.6,154.0 416.4,157.0 416.1,160.0 415.7,163.0 415.3,166.0 414.9,169.0 414.5,172.0 414.1,175.0 413.7,178.0 413.3,181.0 413.0,184.0 412.7,187.0 412.5,190.0 412.3,193.0 412.1,196.0 412.0,199.0 411.9,202.0 411.9,205.0 411.8,208.0 411.8,211.0 411.7,214.0 411.7,217.0 411.7,220.0 411.7,223.0 411.7,226.0 411.7,229.0 411.7,232.0 411.7,235.0 411.7,238.0 411.7,241.0 411.7,244.0 411.7,247.0 411.7,250.0 411.7,253.0 411.7,256.0 411.7,259.0 411.7,262.0 411.7,265.0 411.7,268.0 411.7,271.0 411.7,274.0 411.7,277.0 411.7,280.0 411.7,283.0 411.7,286.0 411.7,289.0 411.7,292.0 411.7,295.0 411.7,298.0 370.0,300.0" fill="#10a8a0"/>
<polygon points="370.0,-2.0 405.0,-2.0 405.0,1.0 405.0,4.0 405.0,7.0 405.0,10.0 405.0,13.0 405.0,16.0 405.0,19.0 405.0,22.0 405.0,25.0 405.0,28.0 405.0,31.0 405.0,34.0 405.0,37.0 405.0,40.0 405.0,43.0 405.0,46.0 405.0,49.0 405.0,52.0 405.0,55.0 405.0,58.0 405.0,61.0 405.0,64.0 405.0,67.0 405.0,70.0 405.0,73.0 405.0,76.0 405.0,79.0 405.0,82.0 405.1,85.0 405.1,88.0 405.1,91.0 405.2,94.0 405.2,97.0 405.3,100.0 405.5,103.0 405.6,106.0 405.8,109.0 406.1,112.0 406.4,115.0 406.7,118.0 407.1,121.0 407.5,124.0 407.9,127.0 408.3,130.0 408.8,133.0 409.1,136.0 409.5,139.0 409.7,142.0 409.9,145.0 410.0,148.0 410.0,151.0 409.9,154.0 409.7,157.0 409.4,160.0 409.0,163.0 408.6,166.0 408.2,169.0 407.8,172.0 407.4,175.0 407.0,178.0 406.6,181.0 406.3,184.0 406.0,187.0 405.8,190.0 405.6,193.0 405.4,196.0 405.3,199.0 405.2,202.0 405.2,205.0 405.1,208.0 405.1,211.0 405.0,214.0 405.0,217.0 405.0,220.0 405.0,223.0 405.0,226.0 405.0,229.0 405.0,232.0 405.0,235.0 405.0,238.0 405.0,241.0 405.0,244.0 405.0,247.0 405.0,250.0 405.0,253.0 405.0,256.0 405.0,259.0 405.0,262.0 405.0,265.0 405.0,268.0 405.0,271.0 405.0,274.0 405.0,277.0 405.0,280.0 405.0,283.0 405.0,286.0 405.0,289.0 405.0,292.0 405.0,295.0 405.0,298.0 370.0,300.0" fill="#10a0b4"/>
<polygon points="370.0,-2.0 397.0,-2.0 397.0,1.0 397.0,4.0 397.0,7.0 397.0,10.0 397.0,13.0 397.0,16.0 397.0,19.0 397.0,22.0 397.0,25.0 397.0,28.0 397.0,31.0 397.0,34.0 397.0,37.0 397.0,40.0 397.0,43.0 397.0,46.0 397.0,49.0 397.0,52.0 397.0,55.0 397.0,58.0 397.0,61.0 397.0,64.0 397.0,67.0 397.0,70.0 397.0,73.0 397.0,76.0 397.0,79.0 397.1,82.0 397.1,85.0 397.1,88.0 397.2,91.0 397.3,94.0 397.4,97.0 397.6,100.0 397.8,103.0 398.0,106.0 398.4,109.0 398.7,112.0 399.2,115.0 399.8,118.0 400.3,121.0 401.0,124.0 401.7,127.0 402.4,130.0 403.0,133.0 403.6,136.0 404.2,139.0 404.6,142.0 404.9,145.0 405.0,148.0 405.0,151.0 404.8,154.0 404.5,157.0 404.0,160.0 403.4,163.0 402.8,166.0 402.1,169.0 401.4,172.0 400.8,175.0 400.1,178.0 399.6,181.0 399.1,184.0 398.6,187.0 398.2,190.0 397.9,193.0 397.7,196.0 397.5,199.0 397.4,202.0 397.2,205.0 397.2,208.0 397.1,211.0 397.1,214.0 397.0,217.0 397.0,220.0 397.0,223.0 397.0,226.0 397.0,229.0 397.0,232.0 397.0,235.0 397.0,238.0 397.0,241.0 397.0,244.0 397.0,247.0 397.0,250.0 397.0,253.0 397.0,256.0 397.0,259.0 397.0,262.0 397.0,265.0 397.0,268.0 397.0,271.0 397.0,274.0 397.0,277.0 397.0,280.0 397.0,283.0 397.0,286.0 397.0,289.0 397.0,292.0 397.0,295.0 397.0,298.0 370.0,300.0" fill="#0a88b4"/>
<polygon points="370.0,-2.0 391.8,-2.0 391.8,1.0 391.8,4.0 391.8,7.0 391.8,10.0 391.8,13.0 391.8,16.0 391.8,19.0 391.8,22.0 391.8,25.0 391.8,28.0 391.8,31.0 391.8,34.0 391.8,37.0 391.8,40.0 391.8,43.0 391.8,46.0 391.8,49.0 391.8,52.0 391.8,55.0 391.8,58.0 391.8,61.0 391.8,64.0 391.8,67.0 391.8,70.0 391.8,73.0 391.8,76.0 391.8,79.0 391.9,82.0 391.9,85.0 392.0,88.0 392.0,91.0 392.1,94.0 392.3,97.0 392.5,100.0 392.8,103.0 393.1,106.0 393.5,109.0 394.0,112.0 394.6,115.0 395.2,118.0 396.0,121.0 396.8,124.0 397.6,127.0 398.5,130.0 399.3,133.0 400.1,136.0 400.7,139.0 401.3,142.0 401.6,145.0 401.8,148.0 401.8,151.0 401.5,154.0 401.1,157.0 400.5,160.0 399.8,163.0 399.1,166.0 398.2,169.0 397.4,172.0 396.5,175.0 395.7,178.0 395.0,181.0 394.4,184.0 393.8,187.0 393.3,190.0 393.0,193.0 392.7,196.0 392.4,199.0 392.2,202.0 392.1,205.0 392.0,208.0 391.9,211.0 391.9,214.0 391.9,217.0 391.8,220.0 391.8,223.0 391.8,226.0 391.8,229.0 391.8,232.0 391.8,235.0 391.8,238.0 391.8,241.0 391.8,244.0 391.8,247.0 391.8,250.0 391.8,253.0 391.8,256.0 391.8,259.0 391.8,262.0 391.8,265.0 391.8,268.0 391.8,271.0 391.8,274.0 391.8,277.0 391.8,280.0 391.8,283.0 391.8,286.0 391.8,289.0 391.8,292.0 391.8,295.0 391.8,298.0 370.0,300.0" fill="#0a4cb4"/>
<polygon points="370.0,-2.0 386.6,-2.0 386.6,1.0 386.6,4.0 386.6,7.0 386.6,10.0 386.6,13.0 386.6,16.0 386.6,19.0 386.6,22.0 386.6,25.0 386.6,28.0 386.6,31.0 386.6,34.0 386.6,37.0 386.6,40.0 386.6,43.0 386.6,46.0 386.6,49.0 386.6,52.0 386.6,55.0 386.6,58.0 386.6,61.0 386.6,64.0 386.6,67.0 386.6,70.0 386.6,73.0 386.6,76.0 386.6,79.0 386.7,82.0 386.7,85.0 386.8,88.0 386.8,91.0 386.9,94.0 387.1,97.0 387.3,100.0 387.6,103.0 387.9,106.0 388.3,109.0 388.8,112.0 389.4,115.0 390.0,118.0 390.8,121.0 391.6,124.0 392.4,127.0 393.3,130.0 394.1,133.0 394.9,136.0 395.5,139.0 396.1,142.0 396.4,145.0 396.6,148.0 396.6,151.0 396.3,154.0 395.9,157.0 395.3,160.0 394.6,163.0 393.9,166.0 393.0,169.0 392.2,172.0 391.3,175.0 390.5,178.0 389.8,181.0 389.2,184.0 388.6,187.0 388.1,190.0 387.8,193.0 387.5,196.0 387.2,199.0 387.0,202.0 386.9,205.0 386.8,208.0 386.7,211.0 386.7,214.0 386.7,217.0 386.6,220.0 386.6,223.0 386.6,226.0 386.6,229.0 386.6,232.0 386.6,235.0 386.6,238.0 386.6,241.0 386.6,244.0 386.6,247.0 386.6,250.0 386.6,253.0 386.6,256.0 386.6,259.0 386.6,262.0 386.6,265.0 386.6,268.0 386.6,271.0 386.6,274.0 386.6,277.0 386.6,280.0 386.6,283.0 386.6,286.0 386.6,289.0 386.6,292.0 386.6,295.0 386.6,298.0 370.0,300.0" fill="#0000a8"/>
</g>
<clipPath id="cpha"><ellipse cx="693.3" cy="161.7" rx="117" ry="119.8"/></clipPath>
<linearGradient id="rodA" x1="0" y1="0" x2="0" y2="1">
<stop offset="0" stop-color="#4a3a2e"/><stop offset="0.12" stop-color="#5a4838"/><stop offset="0.3" stop-color="#73604e"/><stop offset="0.45" stop-color="#6c5a48"/><stop offset="0.62" stop-color="#5e4c3e"/><stop offset="0.85" stop-color="#4c3c30"/><stop offset="1" stop-color="#3c2e24"/></linearGradient>
<linearGradient id="specA" x1="0" y1="0" x2="1" y2="0">
<stop offset="0" stop-color="#f3ecdf"/><stop offset="0.4" stop-color="#efe6d4"/><stop offset="0.85" stop-color="#e8dcc6"/><stop offset="1" stop-color="#dccdb2"/></linearGradient>
<linearGradient id="bgA" x1="0" y1="0" x2="0" y2="1">
<stop offset="0" stop-color="#fcf8f8"/><stop offset="0.5" stop-color="#f8f0f0"/><stop offset="1" stop-color="#f5ecec"/></linearGradient>
<radialGradient id="ballA" cx="0.5" cy="0.62" r="0.6">
<stop offset="0" stop-color="#aeacae"/><stop offset="0.6" stop-color="#c0bec0"/><stop offset="1" stop-color="#dcdcdc"/></radialGradient>
<radialGradient id="ballHi" cx="0.5" cy="0.4" r="0.65">
<stop offset="0" stop-color="#ffffff"/><stop offset="0.6" stop-color="#f6f6f6"/><stop offset="1" stop-color="#d0d0d0"/></radialGradient>
<g clip-path="url(#cpha)">
<rect x="570" y="35" width="250" height="255" fill="url(#bgA)"/>
<rect x="728" y="63" width="90" height="200" fill="#ffffff"/>
<rect x="570" y="88" width="92" height="135" fill="url(#rodA)"/>
<path d="M 668,68.2 L 727,68.2 L 727,241.4 L 666,241.4 C 662,241 660,236 660,230 C 657,190 657,130 660,90 C 661,76 663,69 668,68.2 Z" fill="url(#specA)"/>
<rect x="723.7" y="93.5" width="3.6" height="129.5" fill="#4a3828"/>
<ellipse cx="765" cy="155.6" rx="41" ry="43" fill="url(#ballA)"/>
<ellipse cx="767" cy="138" rx="27" ry="24" fill="url(#ballHi)"/>
<path d="M 744,129 C 733,140 735,162 743,168 C 748,162 752,158 757,156 C 769,155 781,156 787,156 C 779,150 763,149 753,150 C 749,144 746,137 744,129 Z" fill="#121010"/>
</g>
<ellipse cx="693.3" cy="161.7" rx="117" ry="119.8" fill="none" stroke="#ffb800" stroke-width="3.2"/>
<path d="M 796.2,155.7 L 836.3,116.0 L 836.3,135.9 L 878.2,135.9 L 878.2,175.8 L 836.3,175.8 L 836.3,195.2 Z" fill="#ffff00" stroke="#ff0000" stroke-width="3.4" stroke-linejoin="miter" stroke-miterlimit="10"/>
<clipPath id="cpd"><path d="M 1449,18.5 A 148 148 0 0 1 1587,112 C 1585,130 1584.5,150 1585,160 C 1584.5,172 1585,192 1587,210 A 148 148 0 0 1 1451,315.5 C 1447,316 1444,314 1443,310 A 400 400 0 0 1 1441,24 C 1443,20 1446,18.5 1449,18.5 Z"/></clipPath>
<g clip-path="url(#cpd)">
<rect x="1400" y="10" width="200" height="320" fill="#0c46b8"/>
<ellipse cx="1593" cy="160" rx="112" ry="136" fill="#0a72b8"/>
<ellipse cx="1593" cy="160" rx="102" ry="100" fill="#0a94b6"/>
<ellipse cx="1593" cy="160" rx="90" ry="78" fill="#10a6ac"/>
<ellipse cx="1593" cy="160" rx="80" ry="62" fill="#10ac98"/>
<ellipse cx="1593" cy="160" rx="69" ry="54" fill="#10ae60"/>
<ellipse cx="1593" cy="160" rx="60" ry="50" fill="#10b018"/>
<ellipse cx="1593" cy="160" rx="51" ry="44" fill="#60b000"/>
<ellipse cx="1593" cy="160" rx="42" ry="41" fill="#a4b000"/>
<ellipse cx="1593" cy="160" rx="31" ry="37" fill="#c09600"/>
<ellipse cx="1593" cy="160" rx="24" ry="33" fill="#c45a00"/>
<ellipse cx="1593" cy="160" rx="13" ry="27" fill="#cc0800"/>
<path d="M 1400,10 L 1470,10 C 1478,22 1487,38 1487,54 C 1487,74 1476,105 1470,135 C 1467,150 1467,170 1468,190 C 1469,225 1481,250 1481,272 C 1481,292 1474,305 1468,320 L 1400,320 Z" fill="#0000c4"/>
<path d="M 1400,10 L 1457.5,10 L 1453,320 L 1400,320 Z" fill="#00004a"/>
</g>
<clipPath id="cphb"><ellipse cx="1723.6" cy="160.8" rx="119.4" ry="121.6"/></clipPath>
<linearGradient id="rodB" x1="0" y1="0" x2="0" y2="1">
<stop offset="0" stop-color="#463e36"/><stop offset="0.1" stop-color="#5e564c"/><stop offset="0.25" stop-color="#72685c"/><stop offset="0.42" stop-color="#60574c"/><stop offset="0.62" stop-color="#4a4238"/><stop offset="0.82" stop-color="#2e2822"/><stop offset="1" stop-color="#1a1612"/></linearGradient>
<linearGradient id="specB" x1="0" y1="0" x2="0" y2="1">
<stop offset="0" stop-color="#a49c94"/><stop offset="0.45" stop-color="#8a847e"/><stop offset="1" stop-color="#6c6662"/></linearGradient>
<linearGradient id="specBin" x1="0" y1="0" x2="0" y2="1">
<stop offset="0" stop-color="#eeebe8"/><stop offset="0.8" stop-color="#e6e2df"/><stop offset="1" stop-color="#cfcac6"/></linearGradient>
<g clip-path="url(#cphb)">
<rect x="1600" y="35" width="250" height="255" fill="#f7f3ed"/>
<rect x="1600" y="77.2" width="90" height="164.6" fill="url(#rodB)"/>
<path d="M 1759.7,77.2 L 1850,77.2 L 1850,241 L 1764.9,241 Z" fill="url(#rodB)"/>
<path d="M 1689.5,85.5 L 1720,85.5 C 1745,86 1762,118 1762,157 C 1762,198 1745,233.6 1720,233.6 L 1689.5,233.6 Z" fill="url(#specB)"/>
<path d="M 1695.5,104.2 L 1738,104.2 C 1742,106 1744.5,125 1744.5,147 C 1744.5,170 1743,186 1738,190 L 1695.5,190 Z" fill="url(#specBin)"/>
<path d="M 1695,195 L 1712,195 L 1712,228 L 1697,228 Z" fill="#a07070" fill-opacity="0.25"/>
</g>
<ellipse cx="1723.6" cy="160.8" rx="119.4" ry="121.6" fill="none" stroke="#ffb800" stroke-width="3.2"/>
<path d="M 1813.2,153.8 L 1853.8,114.2 L 1853.8,134.0 L 1898.4,134.0 L 1898.4,173.8 L 1853.8,173.8 L 1853.8,194.2 Z" fill="#ffff00" stroke="#ff0000" stroke-width="3.4" stroke-linejoin="miter" stroke-miterlimit="10"/>
</svg>
</body></html>
